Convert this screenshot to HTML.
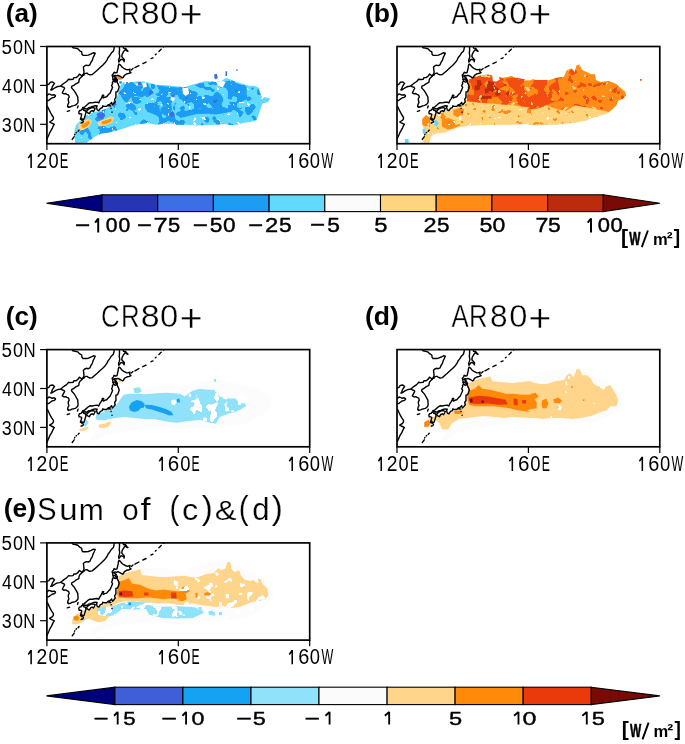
<!DOCTYPE html>
<html><head><meta charset="utf-8"><style>
html,body{margin:0;padding:0;background:#fff;width:685px;height:744px;overflow:hidden;}
svg{display:block;font-family:"Liberation Sans",sans-serif;}
</style></head><body>
<svg width="685" height="744" viewBox="0 0 685 744">
<defs><filter id="mf0" x="0" y="0" width="100%" height="100%" filterUnits="userSpaceOnUse" color-interpolation-filters="sRGB"><feTurbulence type="fractalNoise" baseFrequency="0.080" numOctaves="2" seed="3" result="n"/><feColorMatrix in="n" type="matrix" values="0 0 0 0 0  0 0 0 0 0  0 0 0 0 0  40 0 0 0 -18.44" result="m"/><feComposite in="SourceGraphic" in2="m" operator="in"/></filter><filter id="mf1" x="0" y="0" width="100%" height="100%" filterUnits="userSpaceOnUse" color-interpolation-filters="sRGB"><feTurbulence type="fractalNoise" baseFrequency="0.100" numOctaves="2" seed="7" result="n"/><feColorMatrix in="n" type="matrix" values="0 0 0 0 0  0 0 0 0 0  0 0 0 0 0  40 0 0 0 -23.40" result="m"/><feComposite in="SourceGraphic" in2="m" operator="in"/></filter><filter id="mf2" x="0" y="0" width="100%" height="100%" filterUnits="userSpaceOnUse" color-interpolation-filters="sRGB"><feTurbulence type="fractalNoise" baseFrequency="0.200" numOctaves="2" seed="11" result="n"/><feColorMatrix in="n" type="matrix" values="0 0 0 0 0  0 0 0 0 0  0 0 0 0 0  40 0 0 0 -29.25" result="m"/><feComposite in="SourceGraphic" in2="m" operator="in"/></filter><filter id="mf3" x="0" y="0" width="100%" height="100%" filterUnits="userSpaceOnUse" color-interpolation-filters="sRGB"><feTurbulence type="fractalNoise" baseFrequency="0.140" numOctaves="2" seed="13" result="n"/><feColorMatrix in="n" type="matrix" values="0 0 0 0 0  0 0 0 0 0  0 0 0 0 0  40 0 0 0 -29.40" result="m"/><feComposite in="SourceGraphic" in2="m" operator="in"/></filter><filter id="mf4" x="0" y="0" width="100%" height="100%" filterUnits="userSpaceOnUse" color-interpolation-filters="sRGB"><feTurbulence type="fractalNoise" baseFrequency="0.080" numOctaves="2" seed="21" result="n"/><feColorMatrix in="n" type="matrix" values="0 0 0 0 0  0 0 0 0 0  0 0 0 0 0  40 0 0 0 -18.00" result="m"/><feComposite in="SourceGraphic" in2="m" operator="in"/></filter><filter id="mf5" x="0" y="0" width="100%" height="100%" filterUnits="userSpaceOnUse" color-interpolation-filters="sRGB"><feTurbulence type="fractalNoise" baseFrequency="0.140" numOctaves="2" seed="23" result="n"/><feColorMatrix in="n" type="matrix" values="0 0 0 0 0  0 0 0 0 0  0 0 0 0 0  40 0 0 0 -24.67" result="m"/><feComposite in="SourceGraphic" in2="m" operator="in"/></filter><filter id="mf6" x="0" y="0" width="100%" height="100%" filterUnits="userSpaceOnUse" color-interpolation-filters="sRGB"><feTurbulence type="fractalNoise" baseFrequency="0.100" numOctaves="2" seed="25" result="n"/><feColorMatrix in="n" type="matrix" values="0 0 0 0 0  0 0 0 0 0  0 0 0 0 0  40 0 0 0 -21.06" result="m"/><feComposite in="SourceGraphic" in2="m" operator="in"/></filter><filter id="mf7" x="0" y="0" width="100%" height="100%" filterUnits="userSpaceOnUse" color-interpolation-filters="sRGB"><feTurbulence type="fractalNoise" baseFrequency="0.160" numOctaves="2" seed="27" result="n"/><feColorMatrix in="n" type="matrix" values="0 0 0 0 0  0 0 0 0 0  0 0 0 0 0  40 0 0 0 -26.50" result="m"/><feComposite in="SourceGraphic" in2="m" operator="in"/></filter><filter id="mf8" x="0" y="0" width="100%" height="100%" filterUnits="userSpaceOnUse" color-interpolation-filters="sRGB"><feTurbulence type="fractalNoise" baseFrequency="0.150" numOctaves="2" seed="29" result="n"/><feColorMatrix in="n" type="matrix" values="0 0 0 0 0  0 0 0 0 0  0 0 0 0 0  40 0 0 0 -28.00" result="m"/><feComposite in="SourceGraphic" in2="m" operator="in"/></filter><filter id="mf9" x="0" y="0" width="100%" height="100%" filterUnits="userSpaceOnUse" color-interpolation-filters="sRGB"><feTurbulence type="fractalNoise" baseFrequency="0.200" numOctaves="2" seed="31" result="n"/><feColorMatrix in="n" type="matrix" values="0 0 0 0 0  0 0 0 0 0  0 0 0 0 0  40 0 0 0 -29.25" result="m"/><feComposite in="SourceGraphic" in2="m" operator="in"/></filter><filter id="mf10" x="0" y="0" width="100%" height="100%" filterUnits="userSpaceOnUse" color-interpolation-filters="sRGB"><feTurbulence type="fractalNoise" baseFrequency="0.110" numOctaves="2" seed="41" result="n"/><feColorMatrix in="n" type="matrix" values="0 0 0 0 0  0 0 0 0 0  0 0 0 0 0  40 0 0 0 -22.40" result="m"/><feComposite in="SourceGraphic" in2="m" operator="in"/></filter><filter id="mf11" x="0" y="0" width="100%" height="100%" filterUnits="userSpaceOnUse" color-interpolation-filters="sRGB"><feTurbulence type="fractalNoise" baseFrequency="0.120" numOctaves="2" seed="53" result="n"/><feColorMatrix in="n" type="matrix" values="0 0 0 0 0  0 0 0 0 0  0 0 0 0 0  40 0 0 0 -28.00" result="m"/><feComposite in="SourceGraphic" in2="m" operator="in"/></filter><filter id="mf12" x="0" y="0" width="100%" height="100%" filterUnits="userSpaceOnUse" color-interpolation-filters="sRGB"><feTurbulence type="fractalNoise" baseFrequency="0.120" numOctaves="2" seed="51" result="n"/><feColorMatrix in="n" type="matrix" values="0 0 0 0 0  0 0 0 0 0  0 0 0 0 0  40 0 0 0 -25.56" result="m"/><feComposite in="SourceGraphic" in2="m" operator="in"/></filter><filter id="mf13" x="0" y="0" width="100%" height="100%" filterUnits="userSpaceOnUse" color-interpolation-filters="sRGB"><feTurbulence type="fractalNoise" baseFrequency="0.120" numOctaves="2" seed="43" result="n"/><feColorMatrix in="n" type="matrix" values="0 0 0 0 0  0 0 0 0 0  0 0 0 0 0  40 0 0 0 -23.80" result="m"/><feComposite in="SourceGraphic" in2="m" operator="in"/></filter></defs>
<rect width="685" height="744" fill="#fff"/>
<g transform="translate(46.90,46.50)">
<clipPath id="clipa"><rect x="0" y="0" width="262.8" height="97.2"/></clipPath>
<g clip-path="url(#clipa)">
<polygon fill="#62daff" points="28.3,97.0 27.3,85.9 29.2,78.2 35.1,72.7 39.9,68.5 45.7,66.1 52.5,64.6 59.3,62.2 65.1,58.8 68.4,54.9 70.4,49.0 72.3,43.6 73.5,39.3 75.4,36.6 78.7,35.5 85.5,35.5 91.4,34.7 97.2,35.1 103.0,36.6 108.8,38.2 116.6,38.6 124.4,39.3 133.1,40.3 135.9,41.3 141.8,39.3 151.5,36.4 159.2,34.5 168.9,35.5 174.8,34.5 178.6,31.6 182.5,32.5 186.4,34.5 190.3,35.5 196.1,37.4 201.9,39.3 207.8,39.3 211.7,41.3 214.6,44.2 217.5,50.6 223.3,52.0 221.4,55.3 215.5,57.2 213.6,62.6 211.7,68.5 209.7,73.3 203.9,75.5 196.1,76.6 190.3,78.2 184.5,78.6 176.7,77.4 168.9,78.2 159.2,78.6 149.5,79.1 139.8,78.2 130.1,78.2 124.4,77.2 116.6,77.2 108.8,78.2 101.1,76.6 93.3,77.4 85.5,79.1 77.8,81.7 70.0,84.0 62.2,85.9 54.5,87.1 48.6,89.8 42.8,93.7 38.9,97.0"/><polygon fill="#1c9cf2" filter="url(#mf0)" points="73.9,44.2 77.8,38.4 91.4,36.6 103.0,37.8 116.6,39.7 133.1,41.3 130.1,41.7 141.8,40.3 151.5,37.4 159.2,35.8 168.9,36.6 176.7,35.5 182.5,34.3 188.4,36.2 196.1,38.9 200.0,41.7 201.9,49.0 198.1,56.8 194.2,62.6 188.4,64.6 180.6,66.1 168.9,68.1 159.2,67.3 149.5,67.5 139.8,70.0 130.1,72.3 133.1,73.3 124.4,75.3 116.6,74.3 108.8,68.5 101.1,65.5 93.3,66.5 85.5,64.6 77.8,59.7 71.9,56.8 68.4,55.8 70.0,50.0"/><polygon fill="#1c9cf2" filter="url(#mf1)" points="28.3,97.0 27.3,85.9 29.2,78.2 35.1,72.7 39.9,68.5 45.7,66.1 52.5,64.6 59.3,62.2 65.1,58.8 68.4,54.9 70.4,49.0 72.3,43.6 73.5,39.3 75.4,36.6 78.7,35.5 85.5,35.5 91.4,34.7 97.2,35.1 103.0,36.6 108.8,38.2 116.6,38.6 124.4,39.3 133.1,40.3 135.9,41.3 141.8,39.3 151.5,36.4 159.2,34.5 168.9,35.5 174.8,34.5 178.6,31.6 182.5,32.5 186.4,34.5 190.3,35.5 196.1,37.4 201.9,39.3 207.8,39.3 211.7,41.3 214.6,44.2 217.5,50.6 223.3,52.0 221.4,55.3 215.5,57.2 213.6,62.6 211.7,68.5 209.7,73.3 203.9,75.5 196.1,76.6 190.3,78.2 184.5,78.6 176.7,77.4 168.9,78.2 159.2,78.6 149.5,79.1 139.8,78.2 130.1,78.2 124.4,77.2 116.6,77.2 108.8,78.2 101.1,76.6 93.3,77.4 85.5,79.1 77.8,81.7 70.0,84.0 62.2,85.9 54.5,87.1 48.6,89.8 42.8,93.7 38.9,97.0"/><polygon fill="#ffffff" filter="url(#mf2)" points="28.3,97.0 27.3,85.9 29.2,78.2 35.1,72.7 39.9,68.5 45.7,66.1 52.5,64.6 59.3,62.2 65.1,58.8 68.4,54.9 70.4,49.0 72.3,43.6 73.5,39.3 75.4,36.6 78.7,35.5 85.5,35.5 91.4,34.7 97.2,35.1 103.0,36.6 108.8,38.2 116.6,38.6 124.4,39.3 133.1,40.3 135.9,41.3 141.8,39.3 151.5,36.4 159.2,34.5 168.9,35.5 174.8,34.5 178.6,31.6 182.5,32.5 186.4,34.5 190.3,35.5 196.1,37.4 201.9,39.3 207.8,39.3 211.7,41.3 214.6,44.2 217.5,50.6 223.3,52.0 221.4,55.3 215.5,57.2 213.6,62.6 211.7,68.5 209.7,73.3 203.9,75.5 196.1,76.6 190.3,78.2 184.5,78.6 176.7,77.4 168.9,78.2 159.2,78.6 149.5,79.1 139.8,78.2 130.1,78.2 124.4,77.2 116.6,77.2 108.8,78.2 101.1,76.6 93.3,77.4 85.5,79.1 77.8,81.7 70.0,84.0 62.2,85.9 54.5,87.1 48.6,89.8 42.8,93.7 38.9,97.0"/><polygon fill="#3c6fe6" filter="url(#mf3)" points="73.9,44.2 77.8,38.4 91.4,36.6 103.0,37.8 116.6,39.7 133.1,41.3 130.1,41.7 141.8,40.3 151.5,37.4 159.2,35.8 168.9,36.6 176.7,35.5 182.5,34.3 188.4,36.2 196.1,38.9 200.0,41.7 201.9,49.0 198.1,56.8 194.2,62.6 188.4,64.6 180.6,66.1 168.9,68.1 159.2,67.3 149.5,67.5 139.8,70.0 130.1,72.3 133.1,73.3 124.4,75.3 116.6,74.3 108.8,68.5 101.1,65.5 93.3,66.5 85.5,64.6 77.8,59.7 71.9,56.8 68.4,55.8 70.0,50.0"/><polygon fill="#3c6fe6" points="49.6,67.5 53.5,65.5 57.4,66.5 58.4,69.4 55.4,72.0 51.0,71.4"/><polygon fill="#3c6fe6" points="66.1,54.9 69.0,55.3 69.6,58.8 66.5,59.1"/><polygon fill="#3c6fe6" points="90.4,35.8 94.3,35.5 94.9,38.4 91.4,38.9"/><polygon fill="#3c6fe6" points="97.2,37.4 101.1,37.0 101.5,40.3 97.8,40.5"/><polygon fill="#3c6fe6" points="124.4,48.7 127.3,48.3 127.5,51.4 124.8,51.4"/><polygon fill="#3c6fe6" points="167.4,27.7 169.9,27.3 170.9,31.2 168.9,33.1 167.4,31.6"/><polygon fill="#3c6fe6" points="178.6,24.8 180.2,24.8 180.2,29.6 178.6,29.6"/><polygon fill="#3c6fe6" points="189.3,22.8 190.7,22.8 190.7,24.2 189.3,24.2"/><polygon fill="#ffffff" points="95.2,36.4 99.1,36.0 100.1,40.3 96.2,41.3"/><polygon fill="#ffffff" points="135.5,41.7 141.4,40.9 142.1,47.1 138.8,49.4 135.9,47.1"/><polygon fill="#ffffff" points="124.4,50.0 128.3,51.4 126.3,54.9 123.4,53.3"/><polygon fill="#ffffff" points="168.9,35.1 171.3,39.5 175.9,41.1 178.6,35.8 176.7,34.7"/><polygon fill="#ffffff" points="211.7,42.2 216.5,44.8 218.4,50.0 215.5,51.4 213.6,47.1"/><polygon fill="#ffffff" points="215.5,57.2 217.9,56.8 218.4,58.8 215.9,59.1"/><polygon fill="#ffd47e" points="31.2,78.2 36.0,74.3 41.8,72.0 45.1,74.9 42.4,80.1 37.4,83.0 32.1,84.4"/><polygon fill="#ff8c16" points="34.1,79.1 38.0,76.2 41.8,74.3 43.2,76.6 39.9,80.1 36.0,81.7"/><polygon fill="#ffd47e" points="50.2,75.3 58.4,72.3 64.2,70.0 67.3,71.6 65.3,76.2 58.4,79.1 52.1,80.1"/><polygon fill="#ff8c16" points="54.5,75.3 60.3,73.3 64.2,72.0 64.6,74.7 59.3,77.2 55.4,77.8"/><polygon fill="#00007e" points="67.1,31.6 69.2,30.8 70.8,32.7 70.4,35.5 68.1,35.8 66.7,33.9"/><polygon fill="#ff8c16" points="70.4,29.6 73.1,28.8 75.4,30.8 74.7,33.1 71.9,33.5 70.4,32.0"/><polygon fill="#1c9cf2" points="72.3,35.1 74.3,34.5 75.4,36.0 73.9,37.4 72.3,36.6"/>
<g fill="none" stroke="#000" stroke-width="1.4" stroke-linejoin="round" stroke-linecap="round"><path d="M-0.3,93.3 L1.3,89.8 L2.0,88.3 L2.6,86.7 L3.6,84.8 L4.6,83.2 L5.6,81.3 L6.2,79.7 L7.4,77.9 L6.5,77.4 L4.3,76.4 L2.7,75.5 L4.3,74.5 L5.6,73.7 L6.5,72.3 L6.5,70.8 L4.6,68.0 L2.6,64.2 L0.9,60.5 L-0.3,59.5"/><path d="M0.0,54.0 L1.6,54.0 L3.0,52.9 L5.3,51.3 L7.2,50.9 L8.5,49.8 L8.5,49.0 L7.2,48.2 L4.9,48.6 L3.3,47.8 L2.0,47.4 L0.7,48.6 L0.0,49.0"/><path d="M0.0,38.5 L2.0,37.7 L3.3,35.8 L5.9,35.4 L7.6,36.9 L6.2,38.9 L5.3,40.4 L4.9,42.0 L3.9,43.5 L5.3,43.2 L6.9,42.0 L8.9,40.8 L10.8,40.0 L12.8,39.7 L14.1,39.3 L15.4,40.4 L17.1,40.8 L17.7,42.0 L16.8,43.5 L16.4,44.3 L15.4,46.3 L17.1,47.4 L18.7,47.0 L20.0,47.8 L21.7,48.6 L22.3,50.5 L21.4,52.1 L21.4,54.0 L22.0,56.0 L21.0,57.9 L20.7,59.9 L21.7,60.7 L23.7,60.3 L25.0,59.5 L26.9,59.1 L28.3,58.7 L29.6,57.9 L30.9,56.4 L31.2,54.4 L30.9,52.1 L30.9,50.5 L29.6,48.2 L28.3,45.9 L27.3,44.3 L25.6,42.4 L24.6,41.2 L25.0,39.7 L26.9,38.9 L28.9,37.3 L31.9,35.8 L32.2,33.4 L32.9,31.9 L34.2,30.7 L35.1,29.9 L35.8,28.8 L36.8,28.8 L37.8,27.2 L39.1,26.8 L40.4,26.8 L41.1,27.6 L43.0,28.4 L45.3,28.0 L48.0,25.7 L50.3,23.7 L53.2,21.0 L55.8,18.7 L58.1,16.3 L60.1,13.6 L61.1,11.3 L62.7,9.3 L64.4,6.6 L66.4,4.7 L67.0,2.7 L67.3,0.8 L67.7,-1.2"/><path d="M14.1,39.3 L15.8,37.7 L17.4,36.5 L19.7,35.0 L21.7,32.7 L23.7,33.0 L26.3,32.7 L26.9,31.1 L29.2,31.1 L31.2,29.5 L32.5,27.6 L33.8,28.4 L34.8,29.5"/><path d="M34.8,29.5 L35.5,28.8 L36.5,27.6 L37.1,25.7 L36.8,23.3 L36.5,20.6 L37.8,19.4 L39.4,18.7 L41.4,19.1 L43.0,18.3 L44.0,15.9 L45.3,14.0 L46.3,10.9 L47.3,8.9 L48.3,6.6 L46.6,6.2 L44.3,7.4 L41.4,8.6 L38.8,8.9 L36.1,8.9 L35.1,7.8 L34.8,5.4 L32.9,4.3 L30.9,2.3 L28.3,1.6 L26.0,1.2 L24.6,-0.8"/><path d="M72.3,-1.9 L72.6,0.8 L72.6,3.9 L72.3,7.0 L72.9,9.7 L72.3,12.1 L71.6,13.6 L71.9,15.6 L72.9,14.4 L74.2,12.8 L75.6,13.2 L76.9,14.0 L77.2,15.2 L77.5,13.2 L76.2,11.7 L74.9,10.1 L75.2,7.8 L76.5,5.4 L78.2,3.1 L80.5,4.7 L81.1,4.7 L79.8,3.5 L78.8,1.9 L76.5,1.6 L76.2,-0.4 L76.5,-1.9"/><path d="M65.9,33.2 L67.0,32.9 L68.3,32.1 L69.6,31.9 L68.8,31.1 L67.5,30.3 L66.8,29.4 L68.2,29.0 L69.6,29.4 L71.0,28.8 L73.3,29.9 L75.6,31.3 L76.5,30.7 L77.5,28.8 L79.8,27.4 L82.5,26.8 L84.1,26.0 L83.1,25.3 L82.8,24.5 L83.1,22.6 L81.1,23.3 L79.5,23.1 L76.9,21.8 L75.2,20.6 L73.3,18.3 L72.1,17.5 L71.4,19.1 L71.3,21.0 L70.6,23.7 L70.1,26.0 L68.7,26.4 L67.2,25.7 L66.7,27.0 L65.2,28.8 L65.7,30.3 L66.0,31.9 L65.9,33.2"/><path d="M66.7,34.2 L67.7,35.4 L68.7,35.6 L69.6,34.4 L68.8,33.8 L68.7,33.0 L70.5,33.4 L70.3,35.8 L71.3,37.7 L72.3,40.4 L71.6,42.8 L70.6,45.1 L69.0,45.5 L69.0,48.2 L69.0,50.9 L67.7,52.9 L68.3,55.2 L67.0,56.8 L65.7,58.3 L65.0,57.2 L64.7,56.0 L63.7,57.2 L63.1,57.5 L62.1,59.7 L61.8,58.1 L60.8,58.7 L59.8,59.9 L57.2,59.9 L55.8,59.3 L55.5,61.0 L53.5,61.8 L51.9,64.2 L50.3,63.4 L49.6,61.0 L50.3,59.5 L48.3,59.3 L46.0,59.9 L43.7,60.7 L41.4,61.4 L40.1,62.6 L38.4,62.2 L36.1,62.4 L35.8,61.0 L37.4,60.7 L38.8,59.5 L41.4,57.2 L43.0,56.2 L45.3,56.4 L48.0,55.8 L50.3,55.6 L51.9,56.4 L52.6,54.6 L54.2,52.1 L55.2,50.2 L55.5,48.8 L56.8,48.8 L55.8,50.5 L56.5,51.5 L57.8,50.7 L59.8,50.2 L61.8,47.8 L63.1,46.7 L64.4,43.9 L65.7,40.8 L64.7,39.3 L65.7,36.9 L65.4,36.2 L66.7,34.2"/><path d="M35.8,62.4 L36.8,63.8 L38.4,64.2 L39.1,66.1 L38.4,68.4 L37.6,71.2 L37.1,72.5 L35.1,73.9 L35.1,71.9 L34.7,73.1 L33.5,72.7 L34.2,70.4 L34.8,67.7 L33.5,67.3 L32.2,67.3 L31.9,65.7 L32.5,64.2 L34.2,63.8 L34.8,62.6 L35.8,62.4"/><path d="M39.4,64.9 L41.1,66.5 L42.5,67.1 L43.7,64.9 L45.3,64.2 L46.6,65.1 L47.6,63.4 L48.3,61.8 L46.6,61.2 L44.7,61.0 L42.7,62.0 L41.4,62.8 L39.4,64.9"/><path d="M84.4,23.5 L86.1,22.0"/><path d="M88.0,21.2 L92.0,19.1"/><path d="M95.9,17.1 L99.2,15.6"/><path d="M104.1,12.1 L106.1,11.3"/><path d="M108.4,8.2 L109.2,7.6"/><path d="M112.0,4.9 L114.3,2.7"/><path d="M116.6,0.4 L118.3,-1.6"/><path d="M35.8,76.2 L36.5,74.6"/><path d="M34.2,76.6 L34.8,76.2"/><path d="M31.2,84.8 L32.2,83.6"/><path d="M29.2,86.3 L29.6,85.9"/><path d="M27.6,88.3 L27.9,87.9"/><path d="M25.3,92.9 L27.3,90.2"/><path d="M21.4,60.7 L21.7,60.3"/><path d="M20.4,64.9 L22.7,64.2"/><path d="M30.6,61.4 L31.2,59.5"/><path d="M63.7,59.5 L63.9,59.3"/><path d="M64.1,62.0 L64.2,61.8"/><path d="M65.0,65.7 L65.2,65.6"/></g>
</g>
<rect x="0" y="0" width="262.8" height="97.2" fill="none" stroke="#000" stroke-width="1.7"/>
<line x1="0.0" y1="97.2" x2="0.0" y2="103.4" stroke="#000" stroke-width="1.2"/>
<line x1="131.4" y1="97.2" x2="131.4" y2="103.4" stroke="#000" stroke-width="1.2"/>
<line x1="262.8" y1="97.2" x2="262.8" y2="103.4" stroke="#000" stroke-width="1.2"/>
<line x1="-6.8" y1="0.0" x2="0" y2="0.0" stroke="#000" stroke-width="1.2"/>
<line x1="-6.8" y1="38.9" x2="0" y2="38.9" stroke="#000" stroke-width="1.2"/>
<line x1="-6.8" y1="77.8" x2="0" y2="77.8" stroke="#000" stroke-width="1.2"/>
</g>
<g transform="translate(397.00,46.50)">
<clipPath id="clipb"><rect x="0" y="0" width="262.8" height="97.2"/></clipPath>
<g clip-path="url(#clipb)">
<polygon fill="#ffd47e" points="26.2,97.0 27.2,85.9 25.6,78.2 29.1,71.4 36.9,67.5 46.6,64.6 56.3,62.2 64.1,58.8 68.9,54.9 69.9,49.0 71.5,39.3 71.5,33.5 77.7,30.6 83.5,28.8 91.3,28.1 94.2,28.7 96.1,33.9 100.0,33.9 104.9,31.6 114.6,29.6 120.4,32.5 126.2,33.9 133.0,33.9 135.8,32.5 141.7,34.5 149.4,34.5 159.1,31.6 166.9,30.6 169.8,23.8 174.7,21.9 177.6,25.7 179.5,18.9 182.4,18.0 185.3,23.8 190.2,25.7 194.1,27.7 198.0,27.7 198.9,33.5 203.8,35.5 211.6,34.5 219.3,37.4 223.2,41.3 228.1,45.2 229.0,49.0 226.1,52.0 221.3,53.9 219.3,58.8 215.4,62.6 211.6,66.5 205.7,68.5 198.0,70.4 188.3,74.3 178.5,76.2 168.8,77.2 159.1,78.2 149.4,78.2 139.7,79.1 130.0,78.2 133.0,77.2 116.5,78.2 97.1,78.2 77.7,79.1 66.0,80.1 56.3,82.1 48.5,85.9 38.8,86.9 34.0,89.8 32.0,97.0"/><polygon fill="#ff8c16" points="71.5,33.5 77.7,30.6 83.5,28.8 91.3,28.1 94.2,28.7 96.1,33.9 100.0,33.9 104.9,31.6 114.6,29.6 120.4,32.5 126.2,33.9 133.0,33.9 135.8,32.5 141.7,34.5 149.4,34.5 159.1,31.6 166.9,30.6 169.8,23.8 174.7,21.9 177.6,25.7 179.5,18.9 182.4,18.0 185.3,23.8 190.2,25.7 194.1,27.7 198.0,27.7 198.9,33.5 203.8,35.5 211.6,34.5 219.3,37.4 223.2,41.3 228.1,45.2 229.0,49.0 226.1,52.0 221.3,53.9 219.3,58.8 215.4,62.6 211.6,65.5 207.7,64.6 198.0,62.6 188.3,60.7 178.5,58.8 168.8,64.6 159.1,62.6 149.4,58.8 139.7,62.6 130.0,63.6 133.0,61.1 124.3,59.9 116.5,58.8 106.8,58.0 97.1,57.2 87.4,56.8 77.7,55.8 70.3,54.9 69.9,49.0"/><polygon fill="#f24d12" filter="url(#mf4)" points="71.5,33.5 83.5,29.6 93.2,28.7 108.7,32.0 120.4,31.2 133.0,33.9 139.7,33.5 153.3,33.5 161.1,34.5 163.0,45.2 159.1,54.9 149.4,58.4 139.7,61.7 130.0,63.0 133.0,60.7 116.5,58.8 97.1,57.2 77.7,55.6 70.3,54.5 69.9,49.0"/><polygon fill="#f24d12" filter="url(#mf5)" points="71.5,33.5 77.7,30.6 83.5,28.8 91.3,28.1 94.2,28.7 96.1,33.9 100.0,33.9 104.9,31.6 114.6,29.6 120.4,32.5 126.2,33.9 133.0,33.9 135.8,32.5 141.7,34.5 149.4,34.5 159.1,31.6 166.9,30.6 169.8,23.8 174.7,21.9 177.6,25.7 179.5,18.9 182.4,18.0 185.3,23.8 190.2,25.7 194.1,27.7 198.0,27.7 198.9,33.5 203.8,35.5 211.6,34.5 219.3,37.4 223.2,41.3 228.1,45.2 229.0,49.0 226.1,52.0 221.3,53.9 219.3,58.8 215.4,62.6 211.6,65.5 207.7,64.6 198.0,62.6 188.3,60.7 178.5,58.8 168.8,64.6 159.1,62.6 149.4,58.8 139.7,62.6 130.0,63.6 133.0,61.1 124.3,59.9 116.5,58.8 106.8,58.0 97.1,57.2 87.4,56.8 77.7,55.8 70.3,54.9 69.9,49.0"/><polygon fill="#bd2b0d" filter="url(#mf6)" points="72.2,34.5 81.6,33.5 91.3,34.5 104.9,36.4 112.6,39.3 111.7,49.0 101.0,51.4 89.3,52.5 77.7,52.5 72.2,51.4"/><polygon fill="#ff8c16" filter="url(#mf7)" points="27.2,93.7 27.2,78.2 31.1,71.4 38.8,67.5 50.5,64.6 62.1,60.7 69.9,55.8 87.4,57.2 116.5,59.7 133.0,62.2 130.0,63.6 149.4,59.7 168.8,65.5 188.3,61.7 211.6,66.5 198.0,70.4 168.8,77.2 130.0,78.2 133.0,77.2 97.1,78.2 66.0,80.1 48.5,85.9 35.0,89.8"/><polygon fill="#ffd47e" filter="url(#mf8)" points="71.5,33.5 77.7,30.6 83.5,28.8 91.3,28.1 94.2,28.7 96.1,33.9 100.0,33.9 104.9,31.6 114.6,29.6 120.4,32.5 126.2,33.9 133.0,33.9 135.8,32.5 141.7,34.5 149.4,34.5 159.1,31.6 166.9,30.6 169.8,23.8 174.7,21.9 177.6,25.7 179.5,18.9 182.4,18.0 185.3,23.8 190.2,25.7 194.1,27.7 198.0,27.7 198.9,33.5 203.8,35.5 211.6,34.5 219.3,37.4 223.2,41.3 228.1,45.2 229.0,49.0 226.1,52.0 221.3,53.9 219.3,58.8 215.4,62.6 211.6,65.5 207.7,64.6 198.0,62.6 188.3,60.7 178.5,58.8 168.8,64.6 159.1,62.6 149.4,58.8 139.7,62.6 130.0,63.6 133.0,61.1 124.3,59.9 116.5,58.8 106.8,58.0 97.1,57.2 87.4,56.8 77.7,55.8 70.3,54.9 69.9,49.0"/><polygon fill="#ffffff" points="94.0,26.1 95.1,27.3 95.9,34.7 99.4,35.1 102.9,33.1 101.0,29.6 98.1,26.1"/><polygon fill="#bd2b0d" points="77.7,39.3 81.6,38.4 83.5,42.2 80.0,44.2 77.7,43.2"/><polygon fill="#bd2b0d" points="87.4,42.2 91.3,41.7 91.7,46.1 88.3,47.1"/><polygon fill="#ff8c16" points="56.3,63.6 62.1,61.7 67.0,62.6 66.0,68.5 60.2,70.4 56.3,68.5"/><polygon fill="#ff8c16" points="44.7,73.3 51.5,71.4 58.3,74.3 57.3,82.1 50.5,83.0 45.0,80.1"/><polygon fill="#ff8c16" points="25.2,72.3 29.1,68.5 33.4,71.4 32.6,78.2 28.2,80.1 25.2,78.2"/><polygon fill="#62daff" points="36.9,74.3 39.8,73.5 41.7,77.2 39.8,79.7 37.3,79.1"/><polygon fill="#62daff" points="25.2,83.0 28.2,82.1 29.1,86.9 26.2,87.5"/><polygon fill="#62daff" points="7.8,92.7 11.3,92.2 12.0,96.6 8.2,97.0"/><polygon fill="#ffffff" points="62.1,69.4 64.1,68.8 64.5,73.3 62.3,73.7"/><polygon fill="#ffffff" filter="url(#mf9)" points="27.2,93.7 27.2,78.2 31.1,71.4 38.8,67.5 50.5,64.6 62.1,60.7 69.9,55.8 87.4,57.2 116.5,59.7 133.0,62.2 130.0,63.6 149.4,59.7 168.8,65.5 188.3,61.7 211.6,66.5 198.0,70.4 168.8,77.2 130.0,78.2 133.0,77.2 97.1,78.2 66.0,80.1 48.5,85.9 35.0,89.8"/><polygon fill="#f24d12" points="243.0,32.5 244.6,32.5 244.6,34.3 243.0,34.3"/>
<g fill="none" stroke="#000" stroke-width="1.4" stroke-linejoin="round" stroke-linecap="round"><path d="M-0.3,93.3 L1.3,89.8 L2.0,88.3 L2.6,86.7 L3.6,84.8 L4.6,83.2 L5.6,81.3 L6.2,79.7 L7.4,77.9 L6.5,77.4 L4.3,76.4 L2.7,75.5 L4.3,74.5 L5.6,73.7 L6.5,72.3 L6.5,70.8 L4.6,68.0 L2.6,64.2 L0.9,60.5 L-0.3,59.5"/><path d="M0.0,54.0 L1.6,54.0 L3.0,52.9 L5.3,51.3 L7.2,50.9 L8.5,49.8 L8.5,49.0 L7.2,48.2 L4.9,48.6 L3.3,47.8 L2.0,47.4 L0.7,48.6 L0.0,49.0"/><path d="M0.0,38.5 L2.0,37.7 L3.3,35.8 L5.9,35.4 L7.6,36.9 L6.2,38.9 L5.3,40.4 L4.9,42.0 L3.9,43.5 L5.3,43.2 L6.9,42.0 L8.9,40.8 L10.8,40.0 L12.8,39.7 L14.1,39.3 L15.4,40.4 L17.1,40.8 L17.7,42.0 L16.8,43.5 L16.4,44.3 L15.4,46.3 L17.1,47.4 L18.7,47.0 L20.0,47.8 L21.7,48.6 L22.3,50.5 L21.4,52.1 L21.4,54.0 L22.0,56.0 L21.0,57.9 L20.7,59.9 L21.7,60.7 L23.7,60.3 L25.0,59.5 L26.9,59.1 L28.3,58.7 L29.6,57.9 L30.9,56.4 L31.2,54.4 L30.9,52.1 L30.9,50.5 L29.6,48.2 L28.3,45.9 L27.3,44.3 L25.6,42.4 L24.6,41.2 L25.0,39.7 L26.9,38.9 L28.9,37.3 L31.9,35.8 L32.2,33.4 L32.9,31.9 L34.2,30.7 L35.1,29.9 L35.8,28.8 L36.8,28.8 L37.8,27.2 L39.1,26.8 L40.4,26.8 L41.1,27.6 L43.0,28.4 L45.3,28.0 L48.0,25.7 L50.3,23.7 L53.2,21.0 L55.8,18.7 L58.1,16.3 L60.1,13.6 L61.1,11.3 L62.7,9.3 L64.4,6.6 L66.4,4.7 L67.0,2.7 L67.3,0.8 L67.7,-1.2"/><path d="M14.1,39.3 L15.8,37.7 L17.4,36.5 L19.7,35.0 L21.7,32.7 L23.7,33.0 L26.3,32.7 L26.9,31.1 L29.2,31.1 L31.2,29.5 L32.5,27.6 L33.8,28.4 L34.8,29.5"/><path d="M34.8,29.5 L35.5,28.8 L36.5,27.6 L37.1,25.7 L36.8,23.3 L36.5,20.6 L37.8,19.4 L39.4,18.7 L41.4,19.1 L43.0,18.3 L44.0,15.9 L45.3,14.0 L46.3,10.9 L47.3,8.9 L48.3,6.6 L46.6,6.2 L44.3,7.4 L41.4,8.6 L38.8,8.9 L36.1,8.9 L35.1,7.8 L34.8,5.4 L32.9,4.3 L30.9,2.3 L28.3,1.6 L26.0,1.2 L24.6,-0.8"/><path d="M72.3,-1.9 L72.6,0.8 L72.6,3.9 L72.3,7.0 L72.9,9.7 L72.3,12.1 L71.6,13.6 L71.9,15.6 L72.9,14.4 L74.2,12.8 L75.6,13.2 L76.9,14.0 L77.2,15.2 L77.5,13.2 L76.2,11.7 L74.9,10.1 L75.2,7.8 L76.5,5.4 L78.2,3.1 L80.5,4.7 L81.1,4.7 L79.8,3.5 L78.8,1.9 L76.5,1.6 L76.2,-0.4 L76.5,-1.9"/><path d="M65.9,33.2 L67.0,32.9 L68.3,32.1 L69.6,31.9 L68.8,31.1 L67.5,30.3 L66.8,29.4 L68.2,29.0 L69.6,29.4 L71.0,28.8 L73.3,29.9 L75.6,31.3 L76.5,30.7 L77.5,28.8 L79.8,27.4 L82.5,26.8 L84.1,26.0 L83.1,25.3 L82.8,24.5 L83.1,22.6 L81.1,23.3 L79.5,23.1 L76.9,21.8 L75.2,20.6 L73.3,18.3 L72.1,17.5 L71.4,19.1 L71.3,21.0 L70.6,23.7 L70.1,26.0 L68.7,26.4 L67.2,25.7 L66.7,27.0 L65.2,28.8 L65.7,30.3 L66.0,31.9 L65.9,33.2"/><path d="M66.7,34.2 L67.7,35.4 L68.7,35.6 L69.6,34.4 L68.8,33.8 L68.7,33.0 L70.5,33.4 L70.3,35.8 L71.3,37.7 L72.3,40.4 L71.6,42.8 L70.6,45.1 L69.0,45.5 L69.0,48.2 L69.0,50.9 L67.7,52.9 L68.3,55.2 L67.0,56.8 L65.7,58.3 L65.0,57.2 L64.7,56.0 L63.7,57.2 L63.1,57.5 L62.1,59.7 L61.8,58.1 L60.8,58.7 L59.8,59.9 L57.2,59.9 L55.8,59.3 L55.5,61.0 L53.5,61.8 L51.9,64.2 L50.3,63.4 L49.6,61.0 L50.3,59.5 L48.3,59.3 L46.0,59.9 L43.7,60.7 L41.4,61.4 L40.1,62.6 L38.4,62.2 L36.1,62.4 L35.8,61.0 L37.4,60.7 L38.8,59.5 L41.4,57.2 L43.0,56.2 L45.3,56.4 L48.0,55.8 L50.3,55.6 L51.9,56.4 L52.6,54.6 L54.2,52.1 L55.2,50.2 L55.5,48.8 L56.8,48.8 L55.8,50.5 L56.5,51.5 L57.8,50.7 L59.8,50.2 L61.8,47.8 L63.1,46.7 L64.4,43.9 L65.7,40.8 L64.7,39.3 L65.7,36.9 L65.4,36.2 L66.7,34.2"/><path d="M35.8,62.4 L36.8,63.8 L38.4,64.2 L39.1,66.1 L38.4,68.4 L37.6,71.2 L37.1,72.5 L35.1,73.9 L35.1,71.9 L34.7,73.1 L33.5,72.7 L34.2,70.4 L34.8,67.7 L33.5,67.3 L32.2,67.3 L31.9,65.7 L32.5,64.2 L34.2,63.8 L34.8,62.6 L35.8,62.4"/><path d="M39.4,64.9 L41.1,66.5 L42.5,67.1 L43.7,64.9 L45.3,64.2 L46.6,65.1 L47.6,63.4 L48.3,61.8 L46.6,61.2 L44.7,61.0 L42.7,62.0 L41.4,62.8 L39.4,64.9"/><path d="M84.4,23.5 L86.1,22.0"/><path d="M88.0,21.2 L92.0,19.1"/><path d="M95.9,17.1 L99.2,15.6"/><path d="M104.1,12.1 L106.1,11.3"/><path d="M108.4,8.2 L109.2,7.6"/><path d="M112.0,4.9 L114.3,2.7"/><path d="M116.6,0.4 L118.3,-1.6"/><path d="M35.8,76.2 L36.5,74.6"/><path d="M34.2,76.6 L34.8,76.2"/><path d="M31.2,84.8 L32.2,83.6"/><path d="M29.2,86.3 L29.6,85.9"/><path d="M27.6,88.3 L27.9,87.9"/><path d="M25.3,92.9 L27.3,90.2"/><path d="M21.4,60.7 L21.7,60.3"/><path d="M20.4,64.9 L22.7,64.2"/><path d="M30.6,61.4 L31.2,59.5"/><path d="M63.7,59.5 L63.9,59.3"/><path d="M64.1,62.0 L64.2,61.8"/><path d="M65.0,65.7 L65.2,65.6"/></g>
</g>
<rect x="0" y="0" width="262.8" height="97.2" fill="none" stroke="#000" stroke-width="1.7"/>
<line x1="0.0" y1="97.2" x2="0.0" y2="103.4" stroke="#000" stroke-width="1.2"/>
<line x1="131.4" y1="97.2" x2="131.4" y2="103.4" stroke="#000" stroke-width="1.2"/>
<line x1="262.8" y1="97.2" x2="262.8" y2="103.4" stroke="#000" stroke-width="1.2"/>
</g>
<g transform="translate(46.90,349.60)">
<clipPath id="clipc"><rect x="0" y="0" width="262.8" height="97.2"/></clipPath>
<g clip-path="url(#clipc)">
<polygon fill="#fcfcfc" points="42.8,91.7 50.6,78.1 64.2,70.3 77.8,58.7 93.3,37.3 116.6,36.3 133.1,36.3 130.1,37.3 149.5,33.4 168.9,29.5 188.4,33.4 207.8,39.2 223.3,47.0 225.2,54.8 217.5,64.5 198.1,74.2 168.9,78.1 130.1,78.1 133.1,78.1 97.2,80.0 77.8,82.0 58.4,85.8 48.6,91.7"/><polygon fill="#90e2fb" points="48.6,68.7 49.6,64.5 56.4,62.5 64.2,58.7 70.0,54.8 73.9,48.9 76.8,45.1 81.7,44.1 89.4,44.1 97.2,44.7 105.0,44.1 112.7,43.5 120.5,43.1 133.1,44.1 137.9,47.0 145.6,41.2 153.4,39.2 161.2,40.2 167.0,40.2 172.8,47.0 180.6,48.9 188.4,48.9 192.2,52.8 198.1,53.8 199.0,56.7 194.2,59.6 188.4,62.5 180.6,64.5 172.8,67.4 168.9,74.2 163.1,73.2 153.4,70.3 141.8,71.3 130.1,73.2 124.4,72.6 116.6,71.3 106.9,69.5 97.2,69.5 87.5,68.4 77.8,67.4 68.1,68.4 58.4,70.3 50.6,70.7"/><polygon fill="#90e2fb" points="86.5,39.2 91.4,38.3 93.7,40.2 92.9,43.1 87.5,43.5"/><polygon fill="#90e2fb" points="167.0,29.5 168.9,29.1 169.3,32.4 167.4,32.4"/><polygon fill="#90e2fb" points="36.0,71.9 39.9,70.3 41.8,72.6 38.9,77.1 36.6,76.5"/><polygon fill="#ffffff" filter="url(#mf10)" points="142.1,44.5 199.7,42.6 203.6,58.0 180.5,71.4 153.7,73.3 138.3,61.8"/><polygon fill="#15a2f2" points="82.0,57.1 84.6,52.8 89.8,50.5 94.3,51.3 97.6,54.0 97.2,57.9 93.7,58.7 91.4,61.4 87.1,62.5 83.2,61.0"/><polygon fill="#15a2f2" points="97.2,55.2 105.0,55.5 112.7,57.5 118.9,59.4 124.4,62.1 126.7,65.6 122.4,65.8 116.6,63.7 110.8,61.8 105.0,59.8 99.5,59.0"/><polygon fill="#90e2fb" points="86.5,38.8 92.2,37.3 95.3,41.9 89.2,43.4"/><polygon fill="#15a2f2" points="129.9,49.5 132.5,48.8 133.3,52.6 130.2,53.0"/><polygon fill="#ffffff" points="124.4,50.5 128.3,49.9 129.8,52.8 127.3,55.7 124.4,54.4"/><polygon fill="#ffd58c" points="32.1,80.0 37.0,78.1 41.3,77.1 41.8,79.0 38.0,81.0 33.1,81.6"/><polygon fill="#ffd58c" points="51.6,75.2 58.4,73.8 62.2,71.9 64.2,73.2 61.8,77.1 56.4,78.5 52.1,78.1"/><polygon fill="#ffd58c" points="71.0,30.5 73.5,29.9 74.3,32.4 71.9,33.4"/>
<g fill="none" stroke="#000" stroke-width="1.4" stroke-linejoin="round" stroke-linecap="round"><path d="M-0.3,93.3 L1.3,89.8 L2.0,88.3 L2.6,86.7 L3.6,84.8 L4.6,83.2 L5.6,81.3 L6.2,79.7 L7.4,77.9 L6.5,77.4 L4.3,76.4 L2.7,75.5 L4.3,74.5 L5.6,73.7 L6.5,72.3 L6.5,70.8 L4.6,68.0 L2.6,64.2 L0.9,60.5 L-0.3,59.5"/><path d="M0.0,54.0 L1.6,54.0 L3.0,52.9 L5.3,51.3 L7.2,50.9 L8.5,49.8 L8.5,49.0 L7.2,48.2 L4.9,48.6 L3.3,47.8 L2.0,47.4 L0.7,48.6 L0.0,49.0"/><path d="M0.0,38.5 L2.0,37.7 L3.3,35.8 L5.9,35.4 L7.6,36.9 L6.2,38.9 L5.3,40.4 L4.9,42.0 L3.9,43.5 L5.3,43.2 L6.9,42.0 L8.9,40.8 L10.8,40.0 L12.8,39.7 L14.1,39.3 L15.4,40.4 L17.1,40.8 L17.7,42.0 L16.8,43.5 L16.4,44.3 L15.4,46.3 L17.1,47.4 L18.7,47.0 L20.0,47.8 L21.7,48.6 L22.3,50.5 L21.4,52.1 L21.4,54.0 L22.0,56.0 L21.0,57.9 L20.7,59.9 L21.7,60.7 L23.7,60.3 L25.0,59.5 L26.9,59.1 L28.3,58.7 L29.6,57.9 L30.9,56.4 L31.2,54.4 L30.9,52.1 L30.9,50.5 L29.6,48.2 L28.3,45.9 L27.3,44.3 L25.6,42.4 L24.6,41.2 L25.0,39.7 L26.9,38.9 L28.9,37.3 L31.9,35.8 L32.2,33.4 L32.9,31.9 L34.2,30.7 L35.1,29.9 L35.8,28.8 L36.8,28.8 L37.8,27.2 L39.1,26.8 L40.4,26.8 L41.1,27.6 L43.0,28.4 L45.3,28.0 L48.0,25.7 L50.3,23.7 L53.2,21.0 L55.8,18.7 L58.1,16.3 L60.1,13.6 L61.1,11.3 L62.7,9.3 L64.4,6.6 L66.4,4.7 L67.0,2.7 L67.3,0.8 L67.7,-1.2"/><path d="M14.1,39.3 L15.8,37.7 L17.4,36.5 L19.7,35.0 L21.7,32.7 L23.7,33.0 L26.3,32.7 L26.9,31.1 L29.2,31.1 L31.2,29.5 L32.5,27.6 L33.8,28.4 L34.8,29.5"/><path d="M34.8,29.5 L35.5,28.8 L36.5,27.6 L37.1,25.7 L36.8,23.3 L36.5,20.6 L37.8,19.4 L39.4,18.7 L41.4,19.1 L43.0,18.3 L44.0,15.9 L45.3,14.0 L46.3,10.9 L47.3,8.9 L48.3,6.6 L46.6,6.2 L44.3,7.4 L41.4,8.6 L38.8,8.9 L36.1,8.9 L35.1,7.8 L34.8,5.4 L32.9,4.3 L30.9,2.3 L28.3,1.6 L26.0,1.2 L24.6,-0.8"/><path d="M72.3,-1.9 L72.6,0.8 L72.6,3.9 L72.3,7.0 L72.9,9.7 L72.3,12.1 L71.6,13.6 L71.9,15.6 L72.9,14.4 L74.2,12.8 L75.6,13.2 L76.9,14.0 L77.2,15.2 L77.5,13.2 L76.2,11.7 L74.9,10.1 L75.2,7.8 L76.5,5.4 L78.2,3.1 L80.5,4.7 L81.1,4.7 L79.8,3.5 L78.8,1.9 L76.5,1.6 L76.2,-0.4 L76.5,-1.9"/><path d="M65.9,33.2 L67.0,32.9 L68.3,32.1 L69.6,31.9 L68.8,31.1 L67.5,30.3 L66.8,29.4 L68.2,29.0 L69.6,29.4 L71.0,28.8 L73.3,29.9 L75.6,31.3 L76.5,30.7 L77.5,28.8 L79.8,27.4 L82.5,26.8 L84.1,26.0 L83.1,25.3 L82.8,24.5 L83.1,22.6 L81.1,23.3 L79.5,23.1 L76.9,21.8 L75.2,20.6 L73.3,18.3 L72.1,17.5 L71.4,19.1 L71.3,21.0 L70.6,23.7 L70.1,26.0 L68.7,26.4 L67.2,25.7 L66.7,27.0 L65.2,28.8 L65.7,30.3 L66.0,31.9 L65.9,33.2"/><path d="M66.7,34.2 L67.7,35.4 L68.7,35.6 L69.6,34.4 L68.8,33.8 L68.7,33.0 L70.5,33.4 L70.3,35.8 L71.3,37.7 L72.3,40.4 L71.6,42.8 L70.6,45.1 L69.0,45.5 L69.0,48.2 L69.0,50.9 L67.7,52.9 L68.3,55.2 L67.0,56.8 L65.7,58.3 L65.0,57.2 L64.7,56.0 L63.7,57.2 L63.1,57.5 L62.1,59.7 L61.8,58.1 L60.8,58.7 L59.8,59.9 L57.2,59.9 L55.8,59.3 L55.5,61.0 L53.5,61.8 L51.9,64.2 L50.3,63.4 L49.6,61.0 L50.3,59.5 L48.3,59.3 L46.0,59.9 L43.7,60.7 L41.4,61.4 L40.1,62.6 L38.4,62.2 L36.1,62.4 L35.8,61.0 L37.4,60.7 L38.8,59.5 L41.4,57.2 L43.0,56.2 L45.3,56.4 L48.0,55.8 L50.3,55.6 L51.9,56.4 L52.6,54.6 L54.2,52.1 L55.2,50.2 L55.5,48.8 L56.8,48.8 L55.8,50.5 L56.5,51.5 L57.8,50.7 L59.8,50.2 L61.8,47.8 L63.1,46.7 L64.4,43.9 L65.7,40.8 L64.7,39.3 L65.7,36.9 L65.4,36.2 L66.7,34.2"/><path d="M35.8,62.4 L36.8,63.8 L38.4,64.2 L39.1,66.1 L38.4,68.4 L37.6,71.2 L37.1,72.5 L35.1,73.9 L35.1,71.9 L34.7,73.1 L33.5,72.7 L34.2,70.4 L34.8,67.7 L33.5,67.3 L32.2,67.3 L31.9,65.7 L32.5,64.2 L34.2,63.8 L34.8,62.6 L35.8,62.4"/><path d="M39.4,64.9 L41.1,66.5 L42.5,67.1 L43.7,64.9 L45.3,64.2 L46.6,65.1 L47.6,63.4 L48.3,61.8 L46.6,61.2 L44.7,61.0 L42.7,62.0 L41.4,62.8 L39.4,64.9"/><path d="M84.4,23.5 L86.1,22.0"/><path d="M88.0,21.2 L92.0,19.1"/><path d="M95.9,17.1 L99.2,15.6"/><path d="M104.1,12.1 L106.1,11.3"/><path d="M108.4,8.2 L109.2,7.6"/><path d="M112.0,4.9 L114.3,2.7"/><path d="M116.6,0.4 L118.3,-1.6"/><path d="M35.8,76.2 L36.5,74.6"/><path d="M34.2,76.6 L34.8,76.2"/><path d="M31.2,84.8 L32.2,83.6"/><path d="M29.2,86.3 L29.6,85.9"/><path d="M27.6,88.3 L27.9,87.9"/><path d="M25.3,92.9 L27.3,90.2"/><path d="M21.4,60.7 L21.7,60.3"/><path d="M20.4,64.9 L22.7,64.2"/><path d="M30.6,61.4 L31.2,59.5"/><path d="M63.7,59.5 L63.9,59.3"/><path d="M64.1,62.0 L64.2,61.8"/><path d="M65.0,65.7 L65.2,65.6"/></g>
</g>
<rect x="0" y="0" width="262.8" height="97.2" fill="none" stroke="#000" stroke-width="1.7"/>
<line x1="0.0" y1="97.2" x2="0.0" y2="103.4" stroke="#000" stroke-width="1.2"/>
<line x1="131.4" y1="97.2" x2="131.4" y2="103.4" stroke="#000" stroke-width="1.2"/>
<line x1="262.8" y1="97.2" x2="262.8" y2="103.4" stroke="#000" stroke-width="1.2"/>
<line x1="-6.8" y1="0.0" x2="0" y2="0.0" stroke="#000" stroke-width="1.2"/>
<line x1="-6.8" y1="38.9" x2="0" y2="38.9" stroke="#000" stroke-width="1.2"/>
<line x1="-6.8" y1="77.8" x2="0" y2="77.8" stroke="#000" stroke-width="1.2"/>
</g>
<g transform="translate(397.00,349.60)">
<clipPath id="clipd"><rect x="0" y="0" width="262.8" height="97.2"/></clipPath>
<g clip-path="url(#clipd)">
<polygon fill="#fcfcfc" points="42.7,91.7 50.5,82.0 64.1,72.2 77.7,58.7 93.2,25.6 116.5,25.6 133.0,29.5 130.0,29.5 168.8,17.9 188.3,21.8 207.7,31.5 223.2,43.1 227.1,54.8 217.4,64.5 198.0,72.2 168.8,74.2 130.0,74.2 133.0,74.2 97.1,76.1 77.7,78.1 58.3,83.9 48.5,91.7"/><polygon fill="#ffd58c" points="27.2,77.7 29.1,72.2 33.0,68.4 38.8,66.4 48.5,64.5 58.3,61.6 66.0,58.7 69.5,52.8 70.9,39.2 71.8,33.4 81.6,29.5 89.3,27.6 93.2,26.6 95.1,31.5 102.9,32.4 108.7,33.0 116.5,33.4 124.3,32.4 133.0,31.5 137.8,33.4 143.6,34.4 149.4,34.4 159.1,31.5 166.9,30.5 169.8,25.6 172.7,23.7 176.6,27.6 179.5,19.8 182.4,18.8 185.3,25.6 190.2,25.6 194.1,29.5 196.0,33.4 199.9,36.3 207.7,37.3 213.5,35.4 215.4,39.2 219.3,45.1 221.3,50.9 219.3,56.7 213.5,56.7 209.6,60.6 203.8,62.5 194.1,66.4 184.4,68.4 174.7,69.3 165.0,68.4 155.2,68.4 145.5,69.3 137.8,68.4 130.0,68.4 133.0,68.4 116.5,67.4 106.8,68.4 97.1,67.4 87.4,66.4 77.7,67.4 69.9,68.4 62.1,69.3 54.4,74.2 51.5,80.0 45.0,80.0 42.7,74.2 38.8,70.3 35.0,72.2 31.1,76.5"/><polygon fill="#ff8a0a" points="71.5,41.2 77.7,39.2 81.6,35.4 85.4,39.2 93.2,40.2 101.0,42.1 108.7,44.1 116.5,44.1 124.3,45.1 133.0,45.1 133.9,44.1 138.7,43.1 141.7,47.0 137.8,49.9 139.7,52.8 139.7,58.7 133.9,59.6 130.0,60.6 133.0,62.5 120.4,60.6 112.6,58.7 104.9,57.7 97.1,56.7 87.4,56.7 77.7,56.7 71.8,55.2 70.3,48.9"/><polygon fill="#ffffff" filter="url(#mf11)" points="153.6,23.4 230.3,23.4 230.3,77.2 153.6,77.2"/><polygon fill="#ff8a0a" points="145.1,50.9 149.4,48.9 151.4,53.8 149.4,58.7 145.5,58.7 144.6,54.8"/><polygon fill="#ff8a0a" points="156.2,49.9 161.1,48.0 165.0,50.9 163.0,53.8 157.2,53.2"/><polygon fill="#ff8a0a" points="174.3,36.3 175.8,36.3 175.8,38.3 174.3,38.3"/><polygon fill="#ff8a0a" points="185.9,49.7 187.5,49.7 187.5,51.5 185.9,51.5"/><polygon fill="#ff8a0a" points="27.2,72.6 31.1,70.3 34.2,73.2 31.5,77.1 27.2,77.3"/><polygon fill="#ff8a0a" points="56.3,61.6 64.1,60.6 64.5,64.1 58.3,64.5"/><polygon fill="#ea3a0c" points="71.8,48.0 81.6,46.2 91.3,47.0 101.0,48.6 108.7,50.1 110.7,54.8 101.0,55.2 91.3,54.0 81.6,54.4 73.4,54.0"/><polygon fill="#ea3a0c" points="116.5,48.9 120.4,49.3 120.8,55.7 116.9,55.7"/><polygon fill="#ea3a0c" points="125.2,50.5 129.1,50.5 129.1,53.8 125.2,53.8"/><polygon fill="#7a0a05" points="72.4,49.3 75.3,48.9 75.7,52.4 73.0,52.8"/><polygon fill="#7a0a05" points="84.5,50.9 86.8,50.9 86.8,53.2 84.5,53.2"/>
<g fill="none" stroke="#000" stroke-width="1.4" stroke-linejoin="round" stroke-linecap="round"><path d="M-0.3,93.3 L1.3,89.8 L2.0,88.3 L2.6,86.7 L3.6,84.8 L4.6,83.2 L5.6,81.3 L6.2,79.7 L7.4,77.9 L6.5,77.4 L4.3,76.4 L2.7,75.5 L4.3,74.5 L5.6,73.7 L6.5,72.3 L6.5,70.8 L4.6,68.0 L2.6,64.2 L0.9,60.5 L-0.3,59.5"/><path d="M0.0,54.0 L1.6,54.0 L3.0,52.9 L5.3,51.3 L7.2,50.9 L8.5,49.8 L8.5,49.0 L7.2,48.2 L4.9,48.6 L3.3,47.8 L2.0,47.4 L0.7,48.6 L0.0,49.0"/><path d="M0.0,38.5 L2.0,37.7 L3.3,35.8 L5.9,35.4 L7.6,36.9 L6.2,38.9 L5.3,40.4 L4.9,42.0 L3.9,43.5 L5.3,43.2 L6.9,42.0 L8.9,40.8 L10.8,40.0 L12.8,39.7 L14.1,39.3 L15.4,40.4 L17.1,40.8 L17.7,42.0 L16.8,43.5 L16.4,44.3 L15.4,46.3 L17.1,47.4 L18.7,47.0 L20.0,47.8 L21.7,48.6 L22.3,50.5 L21.4,52.1 L21.4,54.0 L22.0,56.0 L21.0,57.9 L20.7,59.9 L21.7,60.7 L23.7,60.3 L25.0,59.5 L26.9,59.1 L28.3,58.7 L29.6,57.9 L30.9,56.4 L31.2,54.4 L30.9,52.1 L30.9,50.5 L29.6,48.2 L28.3,45.9 L27.3,44.3 L25.6,42.4 L24.6,41.2 L25.0,39.7 L26.9,38.9 L28.9,37.3 L31.9,35.8 L32.2,33.4 L32.9,31.9 L34.2,30.7 L35.1,29.9 L35.8,28.8 L36.8,28.8 L37.8,27.2 L39.1,26.8 L40.4,26.8 L41.1,27.6 L43.0,28.4 L45.3,28.0 L48.0,25.7 L50.3,23.7 L53.2,21.0 L55.8,18.7 L58.1,16.3 L60.1,13.6 L61.1,11.3 L62.7,9.3 L64.4,6.6 L66.4,4.7 L67.0,2.7 L67.3,0.8 L67.7,-1.2"/><path d="M14.1,39.3 L15.8,37.7 L17.4,36.5 L19.7,35.0 L21.7,32.7 L23.7,33.0 L26.3,32.7 L26.9,31.1 L29.2,31.1 L31.2,29.5 L32.5,27.6 L33.8,28.4 L34.8,29.5"/><path d="M34.8,29.5 L35.5,28.8 L36.5,27.6 L37.1,25.7 L36.8,23.3 L36.5,20.6 L37.8,19.4 L39.4,18.7 L41.4,19.1 L43.0,18.3 L44.0,15.9 L45.3,14.0 L46.3,10.9 L47.3,8.9 L48.3,6.6 L46.6,6.2 L44.3,7.4 L41.4,8.6 L38.8,8.9 L36.1,8.9 L35.1,7.8 L34.8,5.4 L32.9,4.3 L30.9,2.3 L28.3,1.6 L26.0,1.2 L24.6,-0.8"/><path d="M72.3,-1.9 L72.6,0.8 L72.6,3.9 L72.3,7.0 L72.9,9.7 L72.3,12.1 L71.6,13.6 L71.9,15.6 L72.9,14.4 L74.2,12.8 L75.6,13.2 L76.9,14.0 L77.2,15.2 L77.5,13.2 L76.2,11.7 L74.9,10.1 L75.2,7.8 L76.5,5.4 L78.2,3.1 L80.5,4.7 L81.1,4.7 L79.8,3.5 L78.8,1.9 L76.5,1.6 L76.2,-0.4 L76.5,-1.9"/><path d="M65.9,33.2 L67.0,32.9 L68.3,32.1 L69.6,31.9 L68.8,31.1 L67.5,30.3 L66.8,29.4 L68.2,29.0 L69.6,29.4 L71.0,28.8 L73.3,29.9 L75.6,31.3 L76.5,30.7 L77.5,28.8 L79.8,27.4 L82.5,26.8 L84.1,26.0 L83.1,25.3 L82.8,24.5 L83.1,22.6 L81.1,23.3 L79.5,23.1 L76.9,21.8 L75.2,20.6 L73.3,18.3 L72.1,17.5 L71.4,19.1 L71.3,21.0 L70.6,23.7 L70.1,26.0 L68.7,26.4 L67.2,25.7 L66.7,27.0 L65.2,28.8 L65.7,30.3 L66.0,31.9 L65.9,33.2"/><path d="M66.7,34.2 L67.7,35.4 L68.7,35.6 L69.6,34.4 L68.8,33.8 L68.7,33.0 L70.5,33.4 L70.3,35.8 L71.3,37.7 L72.3,40.4 L71.6,42.8 L70.6,45.1 L69.0,45.5 L69.0,48.2 L69.0,50.9 L67.7,52.9 L68.3,55.2 L67.0,56.8 L65.7,58.3 L65.0,57.2 L64.7,56.0 L63.7,57.2 L63.1,57.5 L62.1,59.7 L61.8,58.1 L60.8,58.7 L59.8,59.9 L57.2,59.9 L55.8,59.3 L55.5,61.0 L53.5,61.8 L51.9,64.2 L50.3,63.4 L49.6,61.0 L50.3,59.5 L48.3,59.3 L46.0,59.9 L43.7,60.7 L41.4,61.4 L40.1,62.6 L38.4,62.2 L36.1,62.4 L35.8,61.0 L37.4,60.7 L38.8,59.5 L41.4,57.2 L43.0,56.2 L45.3,56.4 L48.0,55.8 L50.3,55.6 L51.9,56.4 L52.6,54.6 L54.2,52.1 L55.2,50.2 L55.5,48.8 L56.8,48.8 L55.8,50.5 L56.5,51.5 L57.8,50.7 L59.8,50.2 L61.8,47.8 L63.1,46.7 L64.4,43.9 L65.7,40.8 L64.7,39.3 L65.7,36.9 L65.4,36.2 L66.7,34.2"/><path d="M35.8,62.4 L36.8,63.8 L38.4,64.2 L39.1,66.1 L38.4,68.4 L37.6,71.2 L37.1,72.5 L35.1,73.9 L35.1,71.9 L34.7,73.1 L33.5,72.7 L34.2,70.4 L34.8,67.7 L33.5,67.3 L32.2,67.3 L31.9,65.7 L32.5,64.2 L34.2,63.8 L34.8,62.6 L35.8,62.4"/><path d="M39.4,64.9 L41.1,66.5 L42.5,67.1 L43.7,64.9 L45.3,64.2 L46.6,65.1 L47.6,63.4 L48.3,61.8 L46.6,61.2 L44.7,61.0 L42.7,62.0 L41.4,62.8 L39.4,64.9"/><path d="M84.4,23.5 L86.1,22.0"/><path d="M88.0,21.2 L92.0,19.1"/><path d="M95.9,17.1 L99.2,15.6"/><path d="M104.1,12.1 L106.1,11.3"/><path d="M108.4,8.2 L109.2,7.6"/><path d="M112.0,4.9 L114.3,2.7"/><path d="M116.6,0.4 L118.3,-1.6"/><path d="M35.8,76.2 L36.5,74.6"/><path d="M34.2,76.6 L34.8,76.2"/><path d="M31.2,84.8 L32.2,83.6"/><path d="M29.2,86.3 L29.6,85.9"/><path d="M27.6,88.3 L27.9,87.9"/><path d="M25.3,92.9 L27.3,90.2"/><path d="M21.4,60.7 L21.7,60.3"/><path d="M20.4,64.9 L22.7,64.2"/><path d="M30.6,61.4 L31.2,59.5"/><path d="M63.7,59.5 L63.9,59.3"/><path d="M64.1,62.0 L64.2,61.8"/><path d="M65.0,65.7 L65.2,65.6"/></g>
</g>
<rect x="0" y="0" width="262.8" height="97.2" fill="none" stroke="#000" stroke-width="1.7"/>
<line x1="0.0" y1="97.2" x2="0.0" y2="103.4" stroke="#000" stroke-width="1.2"/>
<line x1="131.4" y1="97.2" x2="131.4" y2="103.4" stroke="#000" stroke-width="1.2"/>
<line x1="262.8" y1="97.2" x2="262.8" y2="103.4" stroke="#000" stroke-width="1.2"/>
</g>
<g transform="translate(46.90,542.90)">
<clipPath id="clipe"><rect x="0" y="0" width="262.8" height="97.2"/></clipPath>
<g clip-path="url(#clipe)">
<polygon fill="#fcfcfc" points="42.8,91.4 50.6,81.7 64.2,71.9 77.8,58.4 93.3,25.3 116.6,25.3 133.1,29.2 130.1,29.2 168.9,17.6 188.4,21.5 207.8,31.2 223.3,42.8 227.2,54.5 217.5,64.2 198.1,75.8 168.9,77.8 130.1,77.8 133.1,77.8 97.2,79.7 77.8,81.7 58.4,85.5 48.6,91.4"/><polygon fill="#ffd58c" points="25.3,76.8 29.2,71.9 34.1,69.0 38.9,67.1 48.6,64.2 58.4,61.3 66.1,58.4 69.6,52.5 71.0,38.9 71.9,33.1 81.7,29.2 89.4,27.3 93.3,26.3 95.2,32.1 103.0,33.1 112.7,34.1 120.5,34.1 133.1,33.1 137.9,33.1 143.7,34.1 151.5,34.1 159.2,31.2 167.0,30.2 170.9,25.3 174.8,27.3 178.6,25.3 180.6,18.5 183.5,19.5 185.4,27.3 188.4,29.2 192.2,27.3 194.2,33.1 198.1,37.0 203.9,38.0 209.7,36.0 213.6,36.0 215.5,40.9 220.4,45.7 221.4,52.5 218.4,56.4 211.7,58.4 203.9,59.3 198.1,62.2 192.2,64.2 184.5,65.1 176.7,63.2 168.9,64.2 161.2,63.2 153.4,62.2 145.6,60.3 137.9,62.2 130.1,62.2 133.1,62.2 120.5,60.3 108.8,60.3 97.2,59.3 89.4,58.4 77.8,58.4 70.0,60.3 64.2,64.2 64.2,71.9 58.4,77.8 52.5,79.7 46.7,77.8 41.8,75.8 38.9,76.8 35.1,79.7 29.2,81.7 25.3,81.3"/><polygon fill="#ff8a0a" points="71.6,38.9 77.8,37.0 81.7,35.1 85.5,40.9 93.3,41.8 101.1,45.7 108.8,47.7 116.6,46.7 124.4,47.7 133.1,48.6 135.9,43.8 141.8,43.8 142.7,48.6 138.8,50.6 139.8,56.4 135.9,58.4 130.1,57.4 133.1,56.8 124.4,55.4 116.6,56.4 108.8,55.4 101.1,54.5 91.4,55.4 81.7,55.4 71.9,54.5 70.0,50.6"/><polygon fill="#ffffff" filter="url(#mf12)" points="126.8,23.1 230.4,23.1 230.4,76.9 126.8,76.9"/><polygon fill="#ff8a0a" points="157.3,50.2 161.2,49.0 164.7,51.0 162.1,52.9 157.7,52.5"/><polygon fill="#ff8a0a" points="148.5,50.2 150.5,49.6 150.7,54.5 148.7,54.9"/><polygon fill="#ff8a0a" points="26.3,73.9 30.2,72.3 32.7,74.9 31.2,77.8 26.9,77.4"/><polygon fill="#ea3a0c" points="71.9,48.3 77.8,47.7 85.5,48.3 86.5,53.5 77.8,54.1 72.3,53.7"/><polygon fill="#ea3a0c" points="97.2,49.6 101.5,49.6 101.5,52.5 97.2,52.5"/><polygon fill="#ea3a0c" points="124.0,49.6 129.2,49.6 129.8,55.4 124.4,55.6"/><polygon fill="#7a0a05" points="72.3,49.8 75.1,49.4 75.4,52.1 72.7,52.5"/><polygon fill="#90e2fb" points="50.0,66.1 57.7,63.8 66.1,63.4 73.8,60.0 84.6,58.4 100.3,59.6 103.0,62.7 115.3,63.8 130.6,63.4 145.2,64.2 155.6,66.1 156.7,70.0 146.0,75.0 130.6,75.7 115.3,75.0 102.2,71.9 99.1,66.1 88.4,66.5 75.0,66.1 67.3,72.7 57.7,73.4 50.8,71.5"/><polygon fill="#ffffff" filter="url(#mf13)" points="50.0,66.1 57.7,63.8 66.1,63.4 73.8,60.0 84.6,58.4 100.3,59.6 103.0,62.7 115.3,63.8 130.6,63.4 145.2,64.2 155.6,66.1 156.7,70.0 146.0,75.0 130.6,75.7 115.3,75.0 102.2,71.9 99.1,66.1 88.4,66.5 75.0,66.1 67.3,72.7 57.7,73.4 50.8,71.5"/><polygon fill="#15a2f2" points="81.5,59.6 84.2,59.6 84.2,62.3 81.5,62.3"/><polygon fill="#90e2fb" points="161.3,68.4 165.9,67.7 166.7,71.5 162.1,72.3"/><polygon fill="#90e2fb" points="172.1,69.2 175.1,69.2 175.1,72.3 172.1,72.3"/><polygon fill="#90e2fb" points="151.5,64.2 154.6,64.2 154.6,68.1 151.8,68.1"/><polygon fill="#90e2fb" points="165.1,69.0 168.0,69.0 168.0,72.9 165.4,72.9"/><polygon fill="#90e2fb" points="35.1,74.9 37.4,74.3 37.8,77.4 35.4,77.8"/><polygon fill="#ffffff" points="162.1,39.9 166.0,39.9 166.0,43.8 162.7,43.8"/><polygon fill="#ffffff" points="178.6,51.0 182.1,51.0 182.1,55.4 179.0,55.4"/>
<g fill="none" stroke="#000" stroke-width="1.4" stroke-linejoin="round" stroke-linecap="round"><path d="M-0.3,93.3 L1.3,89.8 L2.0,88.3 L2.6,86.7 L3.6,84.8 L4.6,83.2 L5.6,81.3 L6.2,79.7 L7.4,77.9 L6.5,77.4 L4.3,76.4 L2.7,75.5 L4.3,74.5 L5.6,73.7 L6.5,72.3 L6.5,70.8 L4.6,68.0 L2.6,64.2 L0.9,60.5 L-0.3,59.5"/><path d="M0.0,54.0 L1.6,54.0 L3.0,52.9 L5.3,51.3 L7.2,50.9 L8.5,49.8 L8.5,49.0 L7.2,48.2 L4.9,48.6 L3.3,47.8 L2.0,47.4 L0.7,48.6 L0.0,49.0"/><path d="M0.0,38.5 L2.0,37.7 L3.3,35.8 L5.9,35.4 L7.6,36.9 L6.2,38.9 L5.3,40.4 L4.9,42.0 L3.9,43.5 L5.3,43.2 L6.9,42.0 L8.9,40.8 L10.8,40.0 L12.8,39.7 L14.1,39.3 L15.4,40.4 L17.1,40.8 L17.7,42.0 L16.8,43.5 L16.4,44.3 L15.4,46.3 L17.1,47.4 L18.7,47.0 L20.0,47.8 L21.7,48.6 L22.3,50.5 L21.4,52.1 L21.4,54.0 L22.0,56.0 L21.0,57.9 L20.7,59.9 L21.7,60.7 L23.7,60.3 L25.0,59.5 L26.9,59.1 L28.3,58.7 L29.6,57.9 L30.9,56.4 L31.2,54.4 L30.9,52.1 L30.9,50.5 L29.6,48.2 L28.3,45.9 L27.3,44.3 L25.6,42.4 L24.6,41.2 L25.0,39.7 L26.9,38.9 L28.9,37.3 L31.9,35.8 L32.2,33.4 L32.9,31.9 L34.2,30.7 L35.1,29.9 L35.8,28.8 L36.8,28.8 L37.8,27.2 L39.1,26.8 L40.4,26.8 L41.1,27.6 L43.0,28.4 L45.3,28.0 L48.0,25.7 L50.3,23.7 L53.2,21.0 L55.8,18.7 L58.1,16.3 L60.1,13.6 L61.1,11.3 L62.7,9.3 L64.4,6.6 L66.4,4.7 L67.0,2.7 L67.3,0.8 L67.7,-1.2"/><path d="M14.1,39.3 L15.8,37.7 L17.4,36.5 L19.7,35.0 L21.7,32.7 L23.7,33.0 L26.3,32.7 L26.9,31.1 L29.2,31.1 L31.2,29.5 L32.5,27.6 L33.8,28.4 L34.8,29.5"/><path d="M34.8,29.5 L35.5,28.8 L36.5,27.6 L37.1,25.7 L36.8,23.3 L36.5,20.6 L37.8,19.4 L39.4,18.7 L41.4,19.1 L43.0,18.3 L44.0,15.9 L45.3,14.0 L46.3,10.9 L47.3,8.9 L48.3,6.6 L46.6,6.2 L44.3,7.4 L41.4,8.6 L38.8,8.9 L36.1,8.9 L35.1,7.8 L34.8,5.4 L32.9,4.3 L30.9,2.3 L28.3,1.6 L26.0,1.2 L24.6,-0.8"/><path d="M72.3,-1.9 L72.6,0.8 L72.6,3.9 L72.3,7.0 L72.9,9.7 L72.3,12.1 L71.6,13.6 L71.9,15.6 L72.9,14.4 L74.2,12.8 L75.6,13.2 L76.9,14.0 L77.2,15.2 L77.5,13.2 L76.2,11.7 L74.9,10.1 L75.2,7.8 L76.5,5.4 L78.2,3.1 L80.5,4.7 L81.1,4.7 L79.8,3.5 L78.8,1.9 L76.5,1.6 L76.2,-0.4 L76.5,-1.9"/><path d="M65.9,33.2 L67.0,32.9 L68.3,32.1 L69.6,31.9 L68.8,31.1 L67.5,30.3 L66.8,29.4 L68.2,29.0 L69.6,29.4 L71.0,28.8 L73.3,29.9 L75.6,31.3 L76.5,30.7 L77.5,28.8 L79.8,27.4 L82.5,26.8 L84.1,26.0 L83.1,25.3 L82.8,24.5 L83.1,22.6 L81.1,23.3 L79.5,23.1 L76.9,21.8 L75.2,20.6 L73.3,18.3 L72.1,17.5 L71.4,19.1 L71.3,21.0 L70.6,23.7 L70.1,26.0 L68.7,26.4 L67.2,25.7 L66.7,27.0 L65.2,28.8 L65.7,30.3 L66.0,31.9 L65.9,33.2"/><path d="M66.7,34.2 L67.7,35.4 L68.7,35.6 L69.6,34.4 L68.8,33.8 L68.7,33.0 L70.5,33.4 L70.3,35.8 L71.3,37.7 L72.3,40.4 L71.6,42.8 L70.6,45.1 L69.0,45.5 L69.0,48.2 L69.0,50.9 L67.7,52.9 L68.3,55.2 L67.0,56.8 L65.7,58.3 L65.0,57.2 L64.7,56.0 L63.7,57.2 L63.1,57.5 L62.1,59.7 L61.8,58.1 L60.8,58.7 L59.8,59.9 L57.2,59.9 L55.8,59.3 L55.5,61.0 L53.5,61.8 L51.9,64.2 L50.3,63.4 L49.6,61.0 L50.3,59.5 L48.3,59.3 L46.0,59.9 L43.7,60.7 L41.4,61.4 L40.1,62.6 L38.4,62.2 L36.1,62.4 L35.8,61.0 L37.4,60.7 L38.8,59.5 L41.4,57.2 L43.0,56.2 L45.3,56.4 L48.0,55.8 L50.3,55.6 L51.9,56.4 L52.6,54.6 L54.2,52.1 L55.2,50.2 L55.5,48.8 L56.8,48.8 L55.8,50.5 L56.5,51.5 L57.8,50.7 L59.8,50.2 L61.8,47.8 L63.1,46.7 L64.4,43.9 L65.7,40.8 L64.7,39.3 L65.7,36.9 L65.4,36.2 L66.7,34.2"/><path d="M35.8,62.4 L36.8,63.8 L38.4,64.2 L39.1,66.1 L38.4,68.4 L37.6,71.2 L37.1,72.5 L35.1,73.9 L35.1,71.9 L34.7,73.1 L33.5,72.7 L34.2,70.4 L34.8,67.7 L33.5,67.3 L32.2,67.3 L31.9,65.7 L32.5,64.2 L34.2,63.8 L34.8,62.6 L35.8,62.4"/><path d="M39.4,64.9 L41.1,66.5 L42.5,67.1 L43.7,64.9 L45.3,64.2 L46.6,65.1 L47.6,63.4 L48.3,61.8 L46.6,61.2 L44.7,61.0 L42.7,62.0 L41.4,62.8 L39.4,64.9"/><path d="M84.4,23.5 L86.1,22.0"/><path d="M88.0,21.2 L92.0,19.1"/><path d="M95.9,17.1 L99.2,15.6"/><path d="M104.1,12.1 L106.1,11.3"/><path d="M108.4,8.2 L109.2,7.6"/><path d="M112.0,4.9 L114.3,2.7"/><path d="M116.6,0.4 L118.3,-1.6"/><path d="M35.8,76.2 L36.5,74.6"/><path d="M34.2,76.6 L34.8,76.2"/><path d="M31.2,84.8 L32.2,83.6"/><path d="M29.2,86.3 L29.6,85.9"/><path d="M27.6,88.3 L27.9,87.9"/><path d="M25.3,92.9 L27.3,90.2"/><path d="M21.4,60.7 L21.7,60.3"/><path d="M20.4,64.9 L22.7,64.2"/><path d="M30.6,61.4 L31.2,59.5"/><path d="M63.7,59.5 L63.9,59.3"/><path d="M64.1,62.0 L64.2,61.8"/><path d="M65.0,65.7 L65.2,65.6"/></g>
</g>
<rect x="0" y="0" width="262.8" height="97.2" fill="none" stroke="#000" stroke-width="1.7"/>
<line x1="0.0" y1="97.2" x2="0.0" y2="103.4" stroke="#000" stroke-width="1.2"/>
<line x1="131.4" y1="97.2" x2="131.4" y2="103.4" stroke="#000" stroke-width="1.2"/>
<line x1="262.8" y1="97.2" x2="262.8" y2="103.4" stroke="#000" stroke-width="1.2"/>
<line x1="-6.8" y1="0.0" x2="0" y2="0.0" stroke="#000" stroke-width="1.2"/>
<line x1="-6.8" y1="38.9" x2="0" y2="38.9" stroke="#000" stroke-width="1.2"/>
<line x1="-6.8" y1="77.8" x2="0" y2="77.8" stroke="#000" stroke-width="1.2"/>
</g>
<path d="M46.5,203.2 L102.0,194.8 L102.0,211.6 Z" fill="#00007e" stroke="#000" stroke-width="1.1" stroke-linejoin="miter"/>
<rect x="102.0" y="194.8" width="55.7" height="16.8" fill="#2535b4" stroke="#000" stroke-width="1.1"/>
<rect x="157.7" y="194.8" width="55.7" height="16.8" fill="#3c6fe6" stroke="#000" stroke-width="1.1"/>
<rect x="213.4" y="194.8" width="55.7" height="16.8" fill="#1c9cf2" stroke="#000" stroke-width="1.1"/>
<rect x="269.1" y="194.8" width="55.7" height="16.8" fill="#62daff" stroke="#000" stroke-width="1.1"/>
<rect x="324.8" y="194.8" width="55.7" height="16.8" fill="#fbfbfb" stroke="#000" stroke-width="1.1"/>
<rect x="380.5" y="194.8" width="55.7" height="16.8" fill="#ffd47e" stroke="#000" stroke-width="1.1"/>
<rect x="436.2" y="194.8" width="55.7" height="16.8" fill="#ff8c16" stroke="#000" stroke-width="1.1"/>
<rect x="491.9" y="194.8" width="55.7" height="16.8" fill="#f24d12" stroke="#000" stroke-width="1.1"/>
<rect x="547.6" y="194.8" width="55.7" height="16.8" fill="#bd2b0d" stroke="#000" stroke-width="1.1"/>
<path d="M603.3,194.8 L659.8,203.2 L603.3,211.6 Z" fill="#7a0a05" stroke="#000" stroke-width="1.1"/>
<path d="M46.5,695.9 L114.9,687.2 L114.9,704.6 Z" fill="#00007e" stroke="#000" stroke-width="1.1" stroke-linejoin="miter"/>
<rect x="114.9" y="687.2" width="68.0" height="17.4" fill="#3f5fd8" stroke="#000" stroke-width="1.1"/>
<rect x="182.9" y="687.2" width="68.1" height="17.4" fill="#15a2f2" stroke="#000" stroke-width="1.1"/>
<rect x="251.0" y="687.2" width="68.0" height="17.4" fill="#90e2fb" stroke="#000" stroke-width="1.1"/>
<rect x="319.0" y="687.2" width="68.1" height="17.4" fill="#fbfbfb" stroke="#000" stroke-width="1.1"/>
<rect x="387.1" y="687.2" width="68.0" height="17.4" fill="#ffd58c" stroke="#000" stroke-width="1.1"/>
<rect x="455.1" y="687.2" width="68.0" height="17.4" fill="#ff8a0a" stroke="#000" stroke-width="1.1"/>
<rect x="523.2" y="687.2" width="68.1" height="17.4" fill="#ea3a0c" stroke="#000" stroke-width="1.1"/>
<path d="M591.2,687.2 L659.8,695.9 L591.2,704.6 Z" fill="#7a0a05" stroke="#000" stroke-width="1.1"/>
<g font-family="Liberation Sans, sans-serif" fill="#000" style="will-change:transform">
<text x="5.7" y="21.6" font-size="26.06" font-weight="bold" text-anchor="start" textLength="32.0" lengthAdjust="spacingAndGlyphs">(a)</text>
<text x="364.9" y="21.6" font-size="26.06" font-weight="bold" text-anchor="start" textLength="33.9" lengthAdjust="spacingAndGlyphs">(b)</text>
<text x="5.7" y="324.7" font-size="26.06" font-weight="bold" text-anchor="start" textLength="32.0" lengthAdjust="spacingAndGlyphs">(c)</text>
<text x="364.9" y="324.7" font-size="26.06" font-weight="bold" text-anchor="start" textLength="33.9" lengthAdjust="spacingAndGlyphs">(d)</text>
<text x="3.8" y="517.1" font-size="26.06" font-weight="bold" text-anchor="start" textLength="32.3" lengthAdjust="spacingAndGlyphs">(e)</text>
</g>
<g font-family="Liberation Sans" font-size="100" fill="#000" style="will-change:transform"><text transform="matrix(0.2590 0 0 0.3227 100.88 24.10)" stroke="#fff" stroke-width="1.21" stroke-linejoin="round">C</text><text transform="matrix(0.2577 0 0 0.3227 120.89 24.10)" stroke="#fff" stroke-width="1.21" stroke-linejoin="round">R</text><text transform="matrix(0.3388 0 0 0.3227 140.63 24.10)" stroke="#fff" stroke-width="1.06" stroke-linejoin="round">8</text><text transform="matrix(0.3284 0 0 0.3227 160.02 24.10)" stroke="#fff" stroke-width="1.08" stroke-linejoin="round">0</text><text transform="matrix(0.3911 0 0 0.3883 179.79 27.41)" stroke="#fff" stroke-width="0.90" stroke-linejoin="round">+</text><text transform="matrix(0.2579 0 0 0.3227 451.45 24.10)" stroke="#fff" stroke-width="1.21" stroke-linejoin="round">A</text><text transform="matrix(0.2577 0 0 0.3227 469.09 24.10)" stroke="#fff" stroke-width="1.21" stroke-linejoin="round">R</text><text transform="matrix(0.3154 0 0 0.3227 490.03 24.10)" stroke="#fff" stroke-width="1.10" stroke-linejoin="round">8</text><text transform="matrix(0.3263 0 0 0.3227 509.13 24.10)" stroke="#fff" stroke-width="1.08" stroke-linejoin="round">0</text><text transform="matrix(0.3890 0 0 0.3883 528.50 27.41)" stroke="#fff" stroke-width="0.90" stroke-linejoin="round">+</text><text transform="matrix(0.2590 0 0 0.3227 100.88 327.20)" stroke="#fff" stroke-width="1.21" stroke-linejoin="round">C</text><text transform="matrix(0.2577 0 0 0.3227 120.89 327.20)" stroke="#fff" stroke-width="1.21" stroke-linejoin="round">R</text><text transform="matrix(0.3388 0 0 0.3227 140.63 327.20)" stroke="#fff" stroke-width="1.06" stroke-linejoin="round">8</text><text transform="matrix(0.3284 0 0 0.3227 160.02 327.20)" stroke="#fff" stroke-width="1.08" stroke-linejoin="round">0</text><text transform="matrix(0.3911 0 0 0.3883 179.79 330.51)" stroke="#fff" stroke-width="0.90" stroke-linejoin="round">+</text><text transform="matrix(0.2579 0 0 0.3227 451.45 327.20)" stroke="#fff" stroke-width="1.21" stroke-linejoin="round">A</text><text transform="matrix(0.2577 0 0 0.3227 469.09 327.20)" stroke="#fff" stroke-width="1.21" stroke-linejoin="round">R</text><text transform="matrix(0.3154 0 0 0.3227 490.03 327.20)" stroke="#fff" stroke-width="1.10" stroke-linejoin="round">8</text><text transform="matrix(0.3263 0 0 0.3227 509.13 327.20)" stroke="#fff" stroke-width="1.08" stroke-linejoin="round">0</text><text transform="matrix(0.3890 0 0 0.3883 528.50 330.51)" stroke="#fff" stroke-width="0.90" stroke-linejoin="round">+</text><text transform="matrix(0.2901 0 0 0.3121 37.28 520.20)" stroke="#fff" stroke-width="0.66" stroke-linejoin="round">S</text><text transform="matrix(0.3296 0 0 0.2974 59.26 520.21)" stroke="#fff" stroke-width="0.64" stroke-linejoin="round">u</text><text transform="matrix(0.2997 0 0 0.2974 78.71 520.30)" stroke="#fff" stroke-width="0.67" stroke-linejoin="round">m</text><text transform="matrix(0.2965 0 0 0.2957 122.35 520.21)" stroke="#fff" stroke-width="0.68" stroke-linejoin="round">o</text><text transform="matrix(0.3658 0 0 0.3054 140.58 520.30)" stroke="#fff" stroke-width="0.60" stroke-linejoin="round">f</text><text transform="matrix(0.2942 0 0 0.3392 169.48 519.18)" stroke="#fff" stroke-width="0.63" stroke-linejoin="round">(</text><text transform="matrix(0.3247 0 0 0.2957 182.12 520.21)" stroke="#fff" stroke-width="0.65" stroke-linejoin="round">c</text><text transform="matrix(0.3319 0 0 0.3392 201.71 519.18)" stroke="#fff" stroke-width="0.60" stroke-linejoin="round">)</text><text transform="matrix(0.3278 0 0 0.2836 214.75 520.22)" stroke="#fff" stroke-width="0.66" stroke-linejoin="round">&amp;</text><text transform="matrix(0.2942 0 0 0.3392 238.68 519.18)" stroke="#fff" stroke-width="0.63" stroke-linejoin="round">(</text><text transform="matrix(0.3113 0 0 0.3118 252.29 520.20)" stroke="#fff" stroke-width="0.64" stroke-linejoin="round">d</text><text transform="matrix(0.3319 0 0 0.3392 271.81 519.18)" stroke="#fff" stroke-width="0.60" stroke-linejoin="round">)</text><path d="M31.13,167.90 L31.13,153.60 M31.13,153.90 L28.29,158.12" fill="none" stroke="#000" stroke-width="1.53" stroke-linejoin="miter"/><text transform="matrix(0.1932 0 0 0.2122 36.53 167.90)">2</text><text transform="matrix(0.1820 0 0 0.2122 48.49 167.90)">0</text><text transform="matrix(0.1292 0 0 0.2122 59.84 167.90)">E</text><path d="M162.23,167.90 L162.23,153.60 M162.23,153.90 L159.29,158.12" fill="none" stroke="#000" stroke-width="1.53" stroke-linejoin="miter"/><text transform="matrix(0.2059 0 0 0.2122 167.85 167.90)">6</text><text transform="matrix(0.1841 0 0 0.2122 180.18 167.90)">0</text><text transform="matrix(0.1218 0 0 0.2122 191.60 167.90)">E</text><path d="M292.23,167.90 L292.23,153.60 M292.23,153.90 L289.29,158.12" fill="none" stroke="#000" stroke-width="1.53" stroke-linejoin="miter"/><text transform="matrix(0.1994 0 0 0.2122 298.19 167.90)">6</text><text transform="matrix(0.1841 0 0 0.2122 309.78 167.90)">0</text><text transform="matrix(0.1250 0 0 0.2122 321.45 167.90)">W</text><path d="M381.23,167.90 L381.23,153.60 M381.23,153.90 L378.39,158.12" fill="none" stroke="#000" stroke-width="1.53" stroke-linejoin="miter"/><text transform="matrix(0.1932 0 0 0.2122 386.63 167.90)">2</text><text transform="matrix(0.1820 0 0 0.2122 398.59 167.90)">0</text><text transform="matrix(0.1292 0 0 0.2122 409.94 167.90)">E</text><path d="M512.33,167.90 L512.33,153.60 M512.33,153.90 L509.39,158.12" fill="none" stroke="#000" stroke-width="1.53" stroke-linejoin="miter"/><text transform="matrix(0.2059 0 0 0.2122 517.95 167.90)">6</text><text transform="matrix(0.1841 0 0 0.2122 530.28 167.90)">0</text><text transform="matrix(0.1218 0 0 0.2122 541.70 167.90)">E</text><path d="M642.33,167.90 L642.33,153.60 M642.33,153.90 L639.39,158.12" fill="none" stroke="#000" stroke-width="1.53" stroke-linejoin="miter"/><text transform="matrix(0.1994 0 0 0.2122 648.29 167.90)">6</text><text transform="matrix(0.1841 0 0 0.2122 659.88 167.90)">0</text><text transform="matrix(0.1250 0 0 0.2122 671.55 167.90)">W</text><path d="M31.13,471.00 L31.13,456.70 M31.13,457.00 L28.29,461.22" fill="none" stroke="#000" stroke-width="1.53" stroke-linejoin="miter"/><text transform="matrix(0.1932 0 0 0.2122 36.53 471.00)">2</text><text transform="matrix(0.1820 0 0 0.2122 48.49 471.00)">0</text><text transform="matrix(0.1292 0 0 0.2122 59.84 471.00)">E</text><path d="M162.23,471.00 L162.23,456.70 M162.23,457.00 L159.29,461.22" fill="none" stroke="#000" stroke-width="1.53" stroke-linejoin="miter"/><text transform="matrix(0.2059 0 0 0.2122 167.85 471.00)">6</text><text transform="matrix(0.1841 0 0 0.2122 180.18 471.00)">0</text><text transform="matrix(0.1218 0 0 0.2122 191.60 471.00)">E</text><path d="M292.23,471.00 L292.23,456.70 M292.23,457.00 L289.29,461.22" fill="none" stroke="#000" stroke-width="1.53" stroke-linejoin="miter"/><text transform="matrix(0.1994 0 0 0.2122 298.19 471.00)">6</text><text transform="matrix(0.1841 0 0 0.2122 309.78 471.00)">0</text><text transform="matrix(0.1250 0 0 0.2122 321.45 471.00)">W</text><path d="M381.23,471.00 L381.23,456.70 M381.23,457.00 L378.39,461.22" fill="none" stroke="#000" stroke-width="1.53" stroke-linejoin="miter"/><text transform="matrix(0.1932 0 0 0.2122 386.63 471.00)">2</text><text transform="matrix(0.1820 0 0 0.2122 398.59 471.00)">0</text><text transform="matrix(0.1292 0 0 0.2122 409.94 471.00)">E</text><path d="M512.33,471.00 L512.33,456.70 M512.33,457.00 L509.39,461.22" fill="none" stroke="#000" stroke-width="1.53" stroke-linejoin="miter"/><text transform="matrix(0.2059 0 0 0.2122 517.95 471.00)">6</text><text transform="matrix(0.1841 0 0 0.2122 530.28 471.00)">0</text><text transform="matrix(0.1218 0 0 0.2122 541.70 471.00)">E</text><path d="M642.33,471.00 L642.33,456.70 M642.33,457.00 L639.39,461.22" fill="none" stroke="#000" stroke-width="1.53" stroke-linejoin="miter"/><text transform="matrix(0.1994 0 0 0.2122 648.29 471.00)">6</text><text transform="matrix(0.1841 0 0 0.2122 659.88 471.00)">0</text><text transform="matrix(0.1250 0 0 0.2122 671.55 471.00)">W</text><path d="M31.13,664.30 L31.13,650.00 M31.13,650.30 L28.29,654.52" fill="none" stroke="#000" stroke-width="1.53" stroke-linejoin="miter"/><text transform="matrix(0.1932 0 0 0.2122 36.53 664.30)">2</text><text transform="matrix(0.1820 0 0 0.2122 48.49 664.30)">0</text><text transform="matrix(0.1292 0 0 0.2122 59.84 664.30)">E</text><path d="M162.23,664.30 L162.23,650.00 M162.23,650.30 L159.29,654.52" fill="none" stroke="#000" stroke-width="1.53" stroke-linejoin="miter"/><text transform="matrix(0.2059 0 0 0.2122 167.85 664.30)">6</text><text transform="matrix(0.1841 0 0 0.2122 180.18 664.30)">0</text><text transform="matrix(0.1218 0 0 0.2122 191.60 664.30)">E</text><path d="M292.23,664.30 L292.23,650.00 M292.23,650.30 L289.29,654.52" fill="none" stroke="#000" stroke-width="1.53" stroke-linejoin="miter"/><text transform="matrix(0.1994 0 0 0.2122 298.19 664.30)">6</text><text transform="matrix(0.1841 0 0 0.2122 309.78 664.30)">0</text><text transform="matrix(0.1250 0 0 0.2122 321.45 664.30)">W</text><text transform="matrix(0.1877 0 0 0.2108 1.45 53.80)">5</text><text transform="matrix(0.1799 0 0 0.2108 12.90 53.80)">0</text><text transform="matrix(0.1683 0 0 0.2108 23.42 53.80)">N</text><text transform="matrix(0.1766 0 0 0.2108 1.99 92.68)">4</text><text transform="matrix(0.1799 0 0 0.2108 12.90 92.68)">0</text><text transform="matrix(0.1665 0 0 0.2108 23.33 92.68)">N</text><text transform="matrix(0.1793 0 0 0.2108 1.72 131.56)">3</text><text transform="matrix(0.1799 0 0 0.2108 12.90 131.56)">0</text><text transform="matrix(0.1665 0 0 0.2108 23.33 131.56)">N</text><text transform="matrix(0.1877 0 0 0.2108 1.45 356.90)">5</text><text transform="matrix(0.1799 0 0 0.2108 12.90 356.90)">0</text><text transform="matrix(0.1683 0 0 0.2108 23.42 356.90)">N</text><text transform="matrix(0.1766 0 0 0.2108 1.99 395.78)">4</text><text transform="matrix(0.1799 0 0 0.2108 12.90 395.78)">0</text><text transform="matrix(0.1665 0 0 0.2108 23.33 395.78)">N</text><text transform="matrix(0.1793 0 0 0.2108 1.72 434.66)">3</text><text transform="matrix(0.1799 0 0 0.2108 12.90 434.66)">0</text><text transform="matrix(0.1665 0 0 0.2108 23.33 434.66)">N</text><text transform="matrix(0.1877 0 0 0.2108 1.45 550.20)">5</text><text transform="matrix(0.1799 0 0 0.2108 12.90 550.20)">0</text><text transform="matrix(0.1683 0 0 0.2108 23.42 550.20)">N</text><text transform="matrix(0.1766 0 0 0.2108 1.99 589.08)">4</text><text transform="matrix(0.1799 0 0 0.2108 12.90 589.08)">0</text><text transform="matrix(0.1665 0 0 0.2108 23.33 589.08)">N</text><text transform="matrix(0.1793 0 0 0.2108 1.72 627.96)">3</text><text transform="matrix(0.1799 0 0 0.2108 12.90 627.96)">0</text><text transform="matrix(0.1665 0 0 0.2108 23.33 627.96)">N</text><text transform="matrix(0.2614 0 0 0.2108 75.11 232.40)" stroke="#000" stroke-width="1.92" stroke-linejoin="round">−</text><path d="M98.21,232.40 L98.21,218.20 M98.21,218.50 L95.19,222.69" fill="none" stroke="#000" stroke-width="1.97" stroke-linejoin="miter"/><text transform="matrix(0.2113 0 0 0.2108 105.77 232.40)" stroke="#000" stroke-width="2.13" stroke-linejoin="round">0</text><text transform="matrix(0.2113 0 0 0.2108 118.47 232.40)" stroke="#000" stroke-width="2.13" stroke-linejoin="round">0</text><text transform="matrix(0.2552 0 0 0.2108 137.04 232.40)" stroke="#000" stroke-width="1.94" stroke-linejoin="round">−</text><text transform="matrix(0.2552 0 0 0.2108 153.59 232.40)" stroke="#000" stroke-width="1.94" stroke-linejoin="round">7</text><text transform="matrix(0.2194 0 0 0.2108 167.92 232.40)" stroke="#000" stroke-width="2.09" stroke-linejoin="round">5</text><text transform="matrix(0.2614 0 0 0.2108 192.71 232.40)" stroke="#000" stroke-width="1.92" stroke-linejoin="round">−</text><text transform="matrix(0.2278 0 0 0.2108 209.69 232.40)" stroke="#000" stroke-width="2.05" stroke-linejoin="round">5</text><text transform="matrix(0.2259 0 0 0.2108 222.92 232.40)" stroke="#000" stroke-width="2.06" stroke-linejoin="round">0</text><text transform="matrix(0.2552 0 0 0.2108 248.34 232.40)" stroke="#000" stroke-width="1.94" stroke-linejoin="round">−</text><text transform="matrix(0.2371 0 0 0.2108 264.91 232.40)" stroke="#000" stroke-width="2.01" stroke-linejoin="round">2</text><text transform="matrix(0.2278 0 0 0.2108 278.99 232.40)" stroke="#000" stroke-width="2.05" stroke-linejoin="round">5</text><text transform="matrix(0.2593 0 0 0.2108 310.02 232.40)" stroke="#000" stroke-width="1.92" stroke-linejoin="round">−</text><text transform="matrix(0.2278 0 0 0.2108 327.19 232.40)" stroke="#000" stroke-width="2.05" stroke-linejoin="round">5</text><text transform="matrix(0.2383 0 0 0.2108 374.25 232.40)" stroke="#000" stroke-width="2.01" stroke-linejoin="round">5</text><text transform="matrix(0.2349 0 0 0.2108 423.42 232.40)" stroke="#000" stroke-width="2.02" stroke-linejoin="round">2</text><text transform="matrix(0.2257 0 0 0.2108 437.10 232.40)" stroke="#000" stroke-width="2.06" stroke-linejoin="round">5</text><text transform="matrix(0.2320 0 0 0.2108 479.57 232.40)" stroke="#000" stroke-width="2.04" stroke-linejoin="round">5</text><text transform="matrix(0.2301 0 0 0.2108 492.50 232.40)" stroke="#000" stroke-width="2.04" stroke-linejoin="round">0</text><text transform="matrix(0.2310 0 0 0.2108 535.42 232.40)" stroke="#000" stroke-width="2.04" stroke-linejoin="round">7</text><text transform="matrix(0.2299 0 0 0.2108 548.08 232.40)" stroke="#000" stroke-width="2.04" stroke-linejoin="round">5</text><path d="M591.01,232.40 L591.01,218.20 M591.01,218.50 L587.69,222.69" fill="none" stroke="#000" stroke-width="1.97" stroke-linejoin="miter"/><text transform="matrix(0.2197 0 0 0.2108 597.64 232.40)" stroke="#000" stroke-width="2.09" stroke-linejoin="round">0</text><text transform="matrix(0.2197 0 0 0.2108 610.44 232.40)" stroke="#000" stroke-width="2.09" stroke-linejoin="round">0</text><text transform="matrix(0.2593 0 0 0.1919 93.62 724.60)" stroke="#000" stroke-width="2.02" stroke-linejoin="round">−</text><path d="M117.68,724.60 L117.68,711.70 M117.68,712.00 L114.03,715.76" fill="none" stroke="#000" stroke-width="1.84" stroke-linejoin="miter"/><text transform="matrix(0.2215 0 0 0.1919 123.31 724.60)" stroke="#000" stroke-width="2.18" stroke-linejoin="round">5</text><text transform="matrix(0.2696 0 0 0.1919 161.37 724.60)" stroke="#000" stroke-width="1.98" stroke-linejoin="round">−</text><path d="M186.08,724.60 L186.08,711.70 M186.08,712.00 L182.43,715.76" fill="none" stroke="#000" stroke-width="1.84" stroke-linejoin="miter"/><text transform="matrix(0.2322 0 0 0.1919 191.59 724.60)" stroke="#000" stroke-width="2.13" stroke-linejoin="round">0</text><text transform="matrix(0.2717 0 0 0.1919 236.06 724.60)" stroke="#000" stroke-width="1.97" stroke-linejoin="round">−</text><text transform="matrix(0.2341 0 0 0.1919 252.66 724.60)" stroke="#000" stroke-width="2.12" stroke-linejoin="round">5</text><text transform="matrix(0.2655 0 0 0.1919 304.39 724.60)" stroke="#000" stroke-width="1.99" stroke-linejoin="round">−</text><path d="M329.58,724.60 L329.58,711.70 M329.58,712.00 L325.43,715.76" fill="none" stroke="#000" stroke-width="1.84" stroke-linejoin="miter"/><path d="M389.18,724.60 L389.18,711.70 M389.18,712.00 L384.83,715.76" fill="none" stroke="#000" stroke-width="1.84" stroke-linejoin="miter"/><text transform="matrix(0.2362 0 0 0.1919 448.95 724.60)" stroke="#000" stroke-width="2.11" stroke-linejoin="round">5</text><path d="M518.48,724.60 L518.48,711.70 M518.48,712.00 L514.03,715.76" fill="none" stroke="#000" stroke-width="1.84" stroke-linejoin="miter"/><text transform="matrix(0.2510 0 0 0.1919 522.42 724.60)" stroke="#000" stroke-width="2.05" stroke-linejoin="round">0</text><path d="M586.78,724.60 L586.78,711.70 M586.78,712.00 L582.33,715.76" fill="none" stroke="#000" stroke-width="1.84" stroke-linejoin="miter"/><text transform="matrix(0.2362 0 0 0.1919 591.65 724.60)" stroke="#000" stroke-width="2.11" stroke-linejoin="round">5</text><text transform="matrix(0.2116 0 0 0.1963 621.01 243.93)" font-weight="bold">[</text><text transform="matrix(0.1189 0 0 0.1773 629.19 244.70)" font-weight="bold" stroke="#000" stroke-width="3.10" stroke-linejoin="round">W</text><path d="M647.90,230.50 L641.80,247.20" fill="none" stroke="#000" stroke-width="1.90"/><text transform="matrix(0.1655 0 0 0.1653 652.91 244.70)" font-weight="bold">m</text><text transform="matrix(0.1776 0 0 0.1567 666.66 243.91)" font-weight="bold">²</text><text transform="matrix(0.1927 0 0 0.1963 673.86 243.93)" font-weight="bold">]</text><text transform="matrix(0.2116 0 0 0.1963 621.71 736.13)" font-weight="bold">[</text><text transform="matrix(0.1189 0 0 0.1773 629.89 736.90)" font-weight="bold" stroke="#000" stroke-width="3.10" stroke-linejoin="round">W</text><path d="M648.60,722.70 L642.50,739.40" fill="none" stroke="#000" stroke-width="1.90"/><text transform="matrix(0.1655 0 0 0.1653 653.61 736.90)" font-weight="bold">m</text><text transform="matrix(0.1776 0 0 0.1567 667.36 736.11)" font-weight="bold">²</text><text transform="matrix(0.1927 0 0 0.1963 674.56 736.13)" font-weight="bold">]</text></g>
</svg>
</body></html>
